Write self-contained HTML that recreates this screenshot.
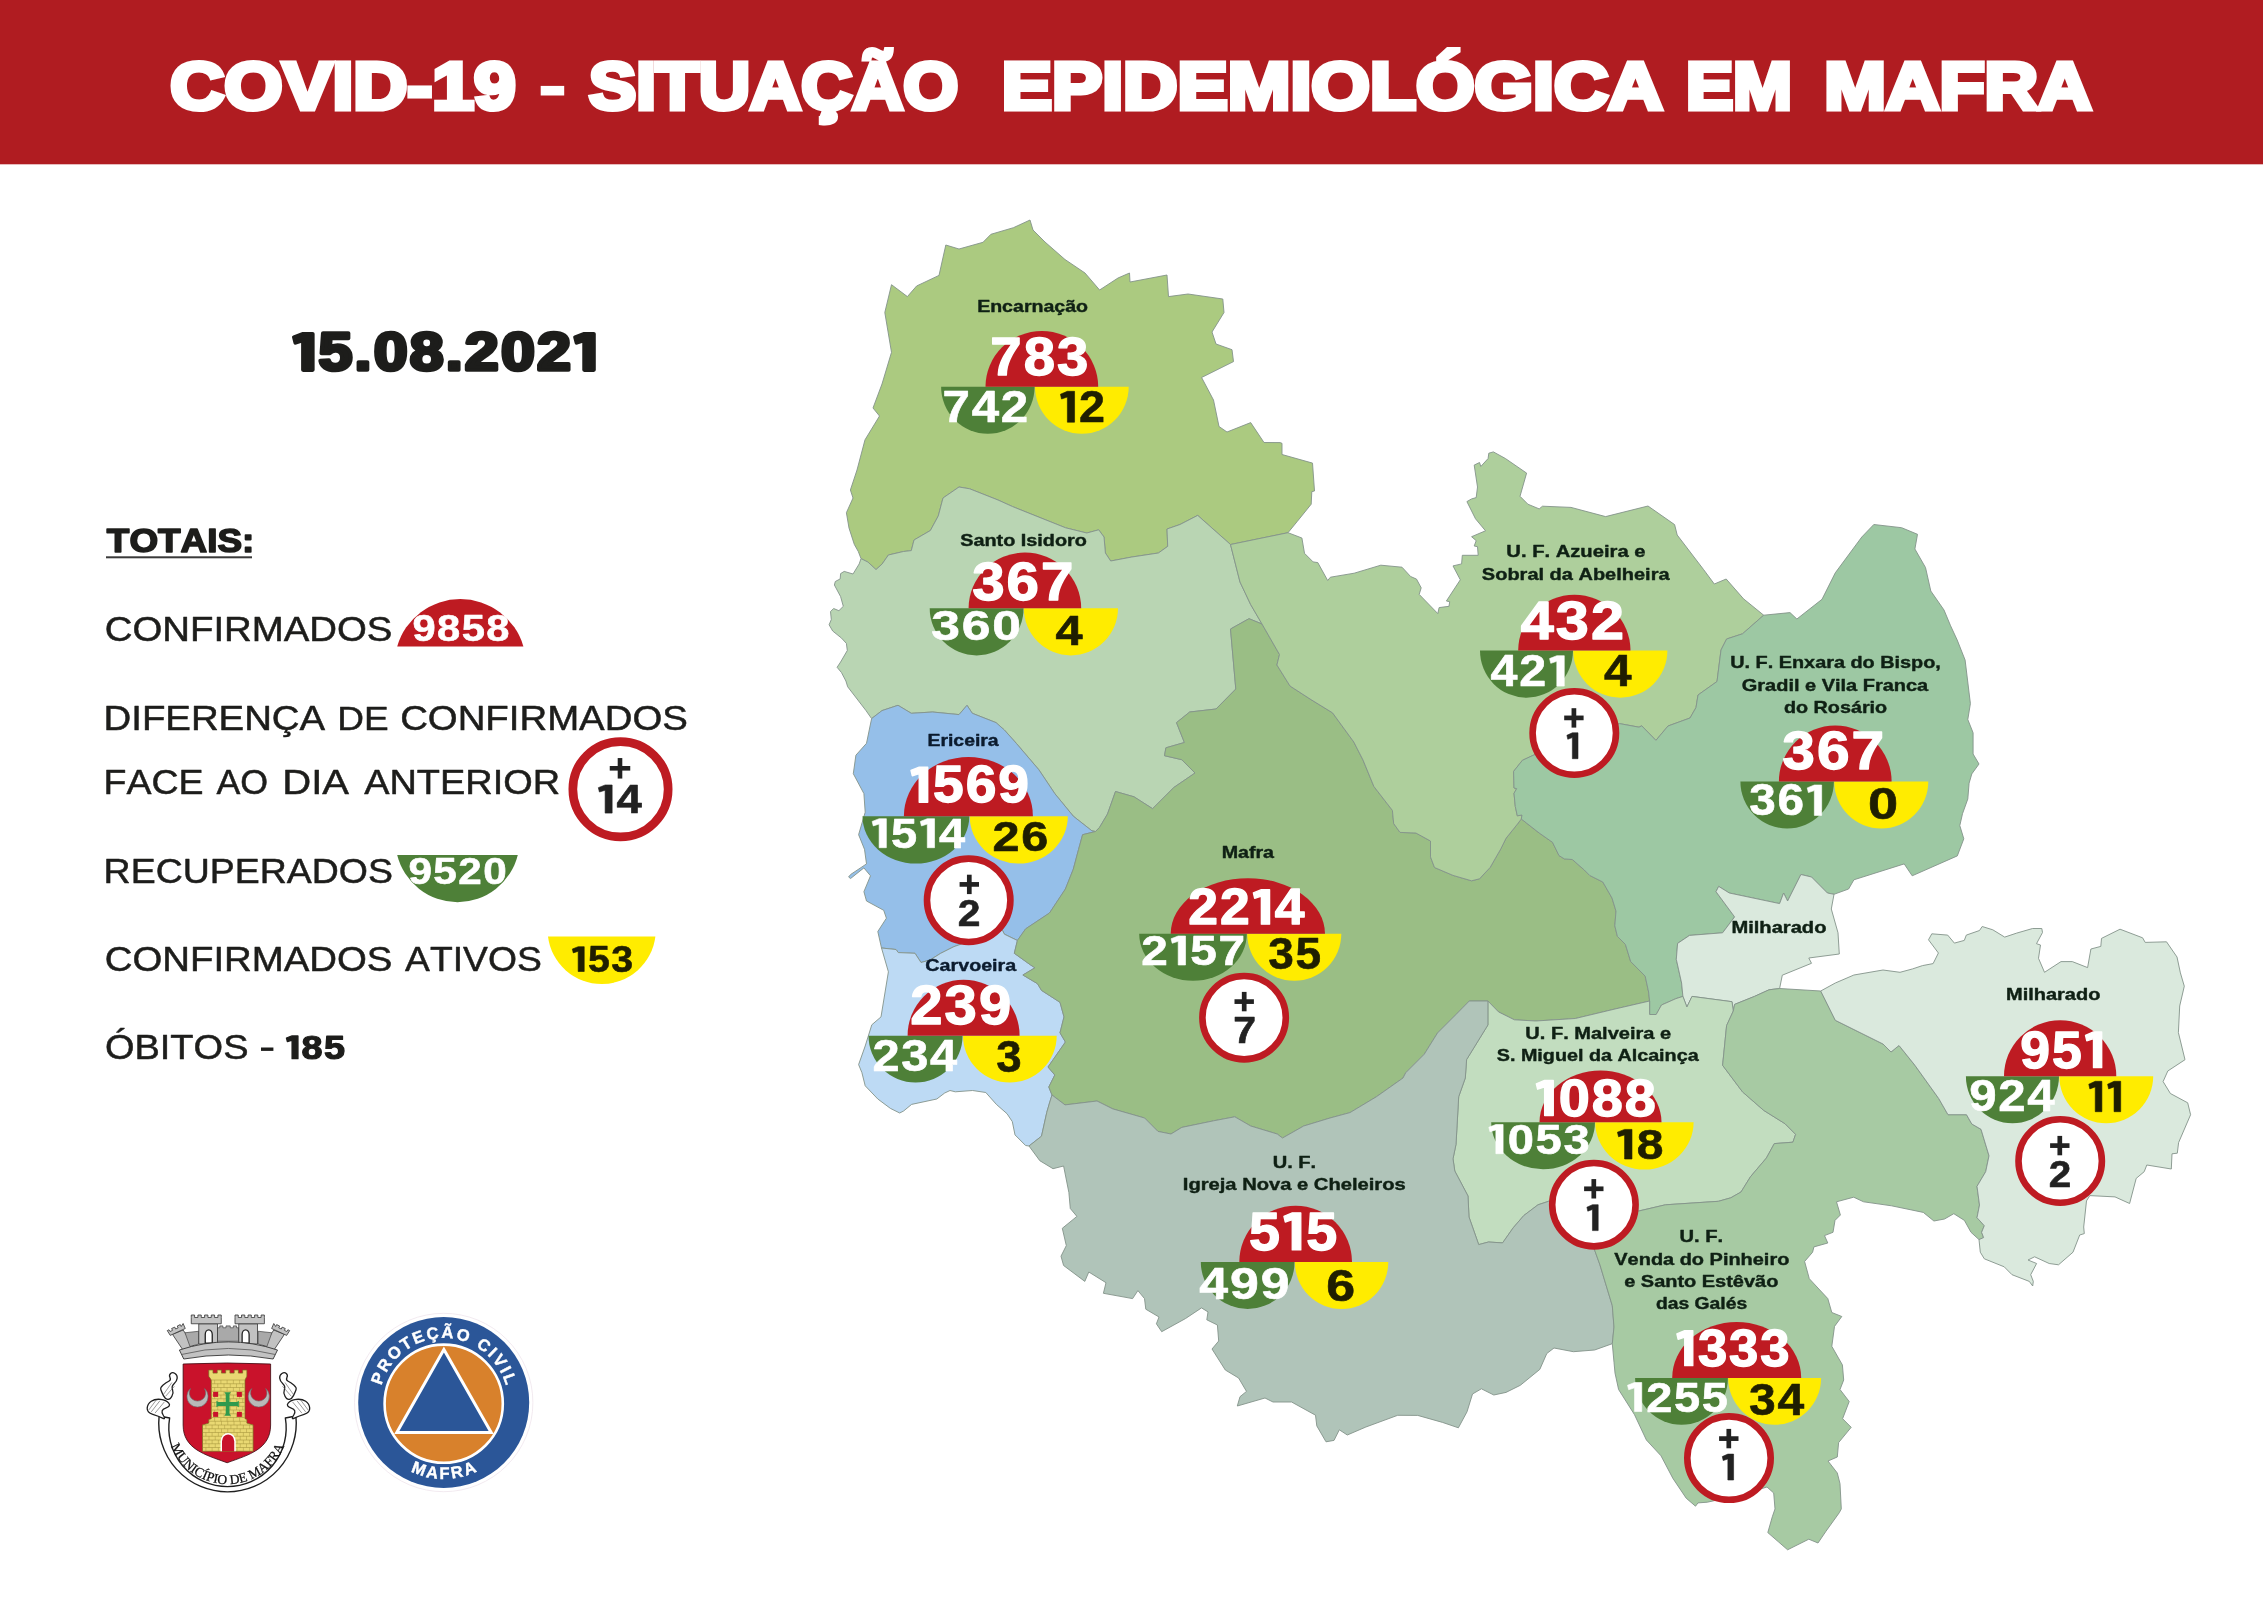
<!DOCTYPE html>
<html lang="pt"><head><meta charset="utf-8"><title>COVID-19 - Situação Epidemiológica em Mafra</title>
<style>
html,body{margin:0;padding:0;background:#fff;}
body{width:2263px;height:1600px;overflow:hidden;font-family:"Liberation Sans",sans-serif;}
svg{display:block;will-change:transform;}
svg text{font-kerning:none;white-space:pre;}
</style></head><body>
<svg width="2263" height="1600" viewBox="0 0 2263 1600">
<rect x="0" y="0" width="2263" height="164.3" fill="#B01C21"/>
<text transform="translate(170.20,108.80) scale(1.1104,1)" font-family="Liberation Sans, sans-serif" font-weight="bold" font-size="67.44" fill="#fff" stroke="#fff" stroke-width="5.00" stroke-linejoin="miter" stroke-miterlimit="2.5">COVID-19</text>
<text transform="translate(589.08,108.80) scale(1.0482,1)" font-family="Liberation Sans, sans-serif" font-weight="bold" font-size="67.44" fill="#fff" stroke="#fff" stroke-width="5.00" stroke-linejoin="miter" stroke-miterlimit="2.5">SITUAÇÃO</text>
<text transform="translate(1001.75,108.80) scale(1.1167,1)" font-family="Liberation Sans, sans-serif" font-weight="bold" font-size="67.44" fill="#fff" stroke="#fff" stroke-width="5.00" stroke-linejoin="miter" stroke-miterlimit="2.5">EPIDEMIOLÓGICA</text>
<text transform="translate(1685.89,108.80) scale(1.0500,1)" font-family="Liberation Sans, sans-serif" font-weight="bold" font-size="67.44" fill="#fff" stroke="#fff" stroke-width="5.00" stroke-linejoin="miter" stroke-miterlimit="2.5">EM</text>
<text transform="translate(1824.29,108.80) scale(1.0979,1)" font-family="Liberation Sans, sans-serif" font-weight="bold" font-size="67.44" fill="#fff" stroke="#fff" stroke-width="5.00" stroke-linejoin="miter" stroke-miterlimit="2.5">MAFRA</text>
<rect x="540.7" y="85.9" width="23.5" height="9.6" fill="#fff"/>
<g transform="translate(291.94,370.10) scale(1.1534,1)" fill="#1D1D1B" stroke="#1D1D1B" stroke-width="3.60" stroke-linejoin="round" font-family="Liberation Sans, sans-serif" font-weight="bold" font-size="52.91"><path d="M9.75,-36.40 L17.87,-36.40 L17.87,0.00 L9.75,0.00 L9.75,-29.67 L3.13,-27.30 L1.85,-32.94Z"/><text x="23.01" y="0">5</text><text x="54.29" y="0">.</text><text x="70.84" y="0">0</text><text x="102.12" y="0">8</text><text x="133.39" y="0">.</text><text x="149.94" y="0">2</text><text x="181.22" y="0">0</text><text x="212.50" y="0">2</text><path d="M253.52,-36.40 L261.64,-36.40 L261.64,0.00 L253.52,0.00 L253.52,-29.67 L246.90,-27.30 L245.62,-32.94Z"/></g>
<text transform="translate(106.86,551.90) scale(1.0992,1)" font-family="Liberation Sans, sans-serif" font-weight="bold" font-size="33.58" fill="#1D1D1B" stroke="#1D1D1B" stroke-width="1.60" stroke-linejoin="round" stroke-miterlimit="2.5">TOTAIS:</text>
<rect x="106" y="556.3" width="146" height="2" fill="#3a3a3a"/>
<text transform="translate(104.73,640.55) scale(1.1232,1)" font-family="Liberation Sans, sans-serif" font-weight="normal" font-size="34.16" fill="#1D1D1B" stroke="#1D1D1B" stroke-width="0.50" stroke-linejoin="round" stroke-miterlimit="2.5">CONFIRMADOS</text>
<text transform="translate(103.53,729.75) scale(1.1231,1)" font-family="Liberation Sans, sans-serif" font-weight="normal" font-size="34.16" fill="#1D1D1B" stroke="#1D1D1B" stroke-width="0.50" stroke-linejoin="round" stroke-miterlimit="2.5">DIFERENÇA</text>
<text transform="translate(337.24,729.75) scale(1.0829,1)" font-family="Liberation Sans, sans-serif" font-weight="normal" font-size="34.16" fill="#1D1D1B" stroke="#1D1D1B" stroke-width="0.50" stroke-linejoin="round" stroke-miterlimit="2.5">DE</text>
<text transform="translate(400.13,729.75) scale(1.1232,1)" font-family="Liberation Sans, sans-serif" font-weight="normal" font-size="34.16" fill="#1D1D1B" stroke="#1D1D1B" stroke-width="0.50" stroke-linejoin="round" stroke-miterlimit="2.5">CONFIRMADOS</text>
<text transform="translate(103.60,794.05) scale(1.0982,1)" font-family="Liberation Sans, sans-serif" font-weight="normal" font-size="34.16" fill="#1D1D1B" stroke="#1D1D1B" stroke-width="0.50" stroke-linejoin="round" stroke-miterlimit="2.5">FACE</text>
<text transform="translate(216.39,794.05) scale(1.0467,1)" font-family="Liberation Sans, sans-serif" font-weight="normal" font-size="34.16" fill="#1D1D1B" stroke="#1D1D1B" stroke-width="0.50" stroke-linejoin="round" stroke-miterlimit="2.5">AO</text>
<text transform="translate(282.21,794.05) scale(1.1728,1)" font-family="Liberation Sans, sans-serif" font-weight="normal" font-size="34.16" fill="#1D1D1B" stroke="#1D1D1B" stroke-width="0.50" stroke-linejoin="round" stroke-miterlimit="2.5">DIA</text>
<text transform="translate(364.20,794.05) scale(1.1099,1)" font-family="Liberation Sans, sans-serif" font-weight="normal" font-size="34.16" fill="#1D1D1B" stroke="#1D1D1B" stroke-width="0.50" stroke-linejoin="round" stroke-miterlimit="2.5">ANTERIOR</text>
<text transform="translate(103.60,882.75) scale(1.0971,1)" font-family="Liberation Sans, sans-serif" font-weight="normal" font-size="34.16" fill="#1D1D1B" stroke="#1D1D1B" stroke-width="0.50" stroke-linejoin="round" stroke-miterlimit="2.5">RECUPERADOS</text>
<text transform="translate(104.73,970.95) scale(1.1232,1)" font-family="Liberation Sans, sans-serif" font-weight="normal" font-size="34.16" fill="#1D1D1B" stroke="#1D1D1B" stroke-width="0.50" stroke-linejoin="round" stroke-miterlimit="2.5">CONFIRMADOS</text>
<text transform="translate(405.10,970.95) scale(1.0915,1)" font-family="Liberation Sans, sans-serif" font-weight="normal" font-size="34.16" fill="#1D1D1B" stroke="#1D1D1B" stroke-width="0.50" stroke-linejoin="round" stroke-miterlimit="2.5">ATIVOS</text>
<text transform="translate(104.88,1059.05) scale(1.1134,1)" font-family="Liberation Sans, sans-serif" font-weight="normal" font-size="34.16" fill="#1D1D1B" stroke="#1D1D1B" stroke-width="0.50" stroke-linejoin="round" stroke-miterlimit="2.5">ÓBITOS</text>
<rect x="261" y="1047.5" width="12.4" height="3.4" fill="#1D1D1B"/>
<g transform="translate(285.16,1058.70) scale(1.1405,1)" fill="#1D1D1B" stroke="#1D1D1B" stroke-width="1.20" stroke-linejoin="round" font-family="Liberation Sans, sans-serif" font-weight="bold" font-size="33.14"><path d="M6.11,-22.80 L11.19,-22.80 L11.19,0.00 L6.11,0.00 L6.11,-18.58 L1.96,-17.10 L1.16,-20.63Z"/><text x="14.42" y="0">8</text><text x="34.01" y="0">5</text></g>
<path d="M397.2,646.4 A65.70,65.70 0 0 1 523.4,646.4 Z" fill="#BE1B22"/>
<g transform="translate(412.40,641.20) scale(1.1509,1)" fill="#fff" stroke="#fff" stroke-width="0.60" stroke-linejoin="round" font-family="Liberation Sans, sans-serif" font-weight="bold" font-size="36.19"><text x="0.00" y="0">9</text><text x="21.39" y="0">8</text><text x="42.79" y="0">5</text><text x="64.18" y="0">8</text></g>
<path d="M397.2,855.0 A62.12,62.12 0 0 0 517.8,855.0 Z" fill="#4E8038"/>
<g transform="translate(408.38,884.30) scale(1.1578,1)" fill="#fff" stroke="#fff" stroke-width="0.60" stroke-linejoin="round" font-family="Liberation Sans, sans-serif" font-weight="bold" font-size="36.48"><text x="0.00" y="0">9</text><text x="21.57" y="0">5</text><text x="43.13" y="0">2</text><text x="64.70" y="0">0</text></g>
<path d="M548.0,936.5 A54.10,54.10 0 0 0 655.4,936.5 Z" fill="#FFEC00"/>
<g transform="translate(570.95,971.50) scale(1.0895,1)" fill="#1F1E00" stroke="#1F1E00" stroke-width="0.60" stroke-linejoin="round" font-family="Liberation Sans, sans-serif" font-weight="bold" font-size="36.05"><path d="M6.64,-24.80 L12.17,-24.80 L12.17,0.00 L6.64,0.00 L6.64,-20.21 L2.13,-18.60 L1.26,-22.44Z"/><text x="15.68" y="0">5</text><text x="36.99" y="0">3</text></g>
<circle cx="620.5" cy="789.3" r="47.65" fill="#fff" stroke="#BE1B22" stroke-width="8.70"/>
<rect x="609.75" y="766.00" width="20.50" height="4.60" fill="#222"/><rect x="617.70" y="758.05" width="4.60" height="20.50" fill="#222"/>
<g transform="translate(596.74,813.10) scale(1.1158,1)" fill="#222" stroke="#222" stroke-width="0.60" stroke-linejoin="round" font-family="Liberation Sans, sans-serif" font-weight="bold" font-size="40.84"><path d="M7.53,-28.10 L13.79,-28.10 L13.79,0.00 L7.53,0.00 L7.53,-22.90 L2.41,-21.07 L1.43,-25.43Z"/><text x="17.77" y="0">4</text></g>
<path d="M861.0,558.6 L858.3,551.5 L854.3,544.4 L849.0,528.0 L846.4,512.7 L853.0,498.0 L850.4,490.0 L857.0,470.0 L865.0,439.8 L879.5,416.0 L873.0,408.0 L882.0,384.0 L891.5,352.3 L884.8,312.5 L891.5,284.7 L907.4,296.6 L916.6,286.0 L939.0,275.4 L945.8,245.0 L959.0,249.0 L983.0,242.3 L990.9,234.3 L1013.4,227.7 L1030.0,220.0 L1033.0,230.0 L1045.0,242.0 L1065.0,259.5 L1085.0,273.0 L1099.6,290.0 L1118.0,278.0 L1129.5,273.0 L1130.0,282.0 L1167.0,275.0 L1168.5,296.6 L1188.0,294.0 L1222.8,299.0 L1224.0,312.5 L1212.0,332.0 L1216.0,344.0 L1232.0,349.7 L1233.5,361.6 L1201.6,377.5 L1213.5,400.0 L1219.0,426.5 L1227.0,432.0 L1250.7,422.6 L1264.0,442.5 L1280.0,442.6 L1282.0,443.3 L1282.0,454.5 L1312.5,463.1 L1314.5,491.0 L1311.8,491.6 L1311.2,504.2 L1297.2,521.5 L1288.0,532.7 L1230.5,544.5 L1197.7,515.4 L1180.0,524.5 L1167.0,529.0 L1167.7,546.4 L1158.4,553.0 L1131.9,557.0 L1110.7,561.0 L1105.4,553.0 L1104.0,537.0 L1098.7,529.8 L1086.8,533.0 L1065.6,527.8 L1039.0,517.2 L1012.6,506.6 L998.0,500.0 L969.7,488.8 L959.0,487.0 L943.0,498.0 L938.3,515.9 L930.4,530.5 L914.0,540.0 L911.3,550.6 L903.4,551.5 L888.4,555.0 L882.2,563.9 L876.0,569.6 L868.0,562.1Z" fill="#ABCA80" stroke="#83938A" stroke-width="0.9" stroke-linejoin="round"/>
<path d="M861.0,558.6 L859.2,563.9 L853.0,574.0 L844.2,571.4 L840.6,573.6 L840.2,578.9 L835.3,581.5 L834.4,585.0 L840.6,596.6 L843.3,606.3 L838.9,610.7 L833.6,608.5 L830.5,611.6 L831.3,619.5 L829.1,624.8 L832.7,631.0 L841.5,638.1 L846.4,643.4 L847.3,650.5 L840.6,662.0 L837.1,667.3 L841.5,672.6 L845.9,681.0 L847.7,686.8 L866.0,710.6 L871.6,718.6 L882.0,710.6 L898.0,705.3 L911.3,713.3 L932.6,712.0 L959.0,714.6 L967.0,705.3 L972.3,713.3 L996.0,722.6 L1004.4,730.0 L1016.3,743.3 L1038.9,769.8 L1054.8,793.6 L1073.3,816.2 L1091.9,830.8 L1095.5,831.5 L1099.6,827.3 L1107.5,814.0 L1115.5,791.5 L1134.0,796.8 L1152.6,808.7 L1173.8,787.5 L1195.0,773.0 L1181.8,759.7 L1164.5,755.7 L1165.9,747.8 L1184.4,742.5 L1176.5,722.6 L1189.7,712.0 L1216.0,709.0 L1235.8,689.0 L1230.5,629.0 L1249.0,618.7 L1262.0,624.0 L1250.7,604.6 L1240.0,582.0 L1230.5,544.5 L1197.7,515.4 L1180.0,524.5 L1167.0,529.0 L1167.7,546.4 L1158.4,553.0 L1131.9,557.0 L1110.7,561.0 L1105.4,553.0 L1104.0,537.0 L1098.7,529.8 L1086.8,533.0 L1065.6,527.8 L1039.0,517.2 L1012.6,506.6 L998.0,500.0 L969.7,488.8 L959.0,487.0 L943.0,498.0 L938.3,515.9 L930.4,530.5 L914.0,540.0 L911.3,550.6 L903.4,551.5 L888.4,555.0 L882.2,563.9 L876.0,569.6 L868.0,562.1Z" fill="#B9D5B3" stroke="#83938A" stroke-width="0.9" stroke-linejoin="round"/>
<path d="M871.6,718.6 L866.5,743.3 L855.9,755.2 L853.3,773.7 L863.9,793.6 L865.2,812.2 L858.6,834.7 L864.5,849.3 L866.5,863.9 L850.6,874.5 L848.6,877.0 L850.6,878.5 L863.9,867.9 L870.5,875.8 L863.9,891.7 L866.5,901.0 L883.7,910.3 L886.4,918.2 L877.8,931.5 L881.5,948.0 L896.0,949.5 L898.3,952.6 L915.0,953.3 L921.0,962.5 L930.0,960.0 L940.7,953.3 L954.0,946.6 L970.0,941.0 L985.0,936.0 L1002.4,930.2 L1004.4,934.2 L1017.4,940.5 L1025.6,928.9 L1049.5,913.0 L1065.4,889.0 L1073.3,869.2 L1078.6,849.3 L1082.6,834.7 L1095.5,831.5 L1091.9,830.8 L1073.3,816.2 L1054.8,793.6 L1038.9,769.8 L1016.3,743.3 L1004.4,730.0 L996.0,722.6 L972.3,713.3 L967.0,705.3 L959.0,714.6 L932.6,712.0 L911.3,713.3 L898.0,705.3 L882.0,710.6Z" fill="#95BFE9" stroke="#83938A" stroke-width="0.9" stroke-linejoin="round"/>
<path d="M881.5,948.0 L888.4,971.8 L881.0,1016.9 L871.8,1024.8 L865.2,1046.0 L858.6,1064.6 L861.9,1072.6 L865.2,1085.8 L877.8,1099.0 L890.4,1108.4 L899.7,1113.0 L903.6,1111.0 L911.6,1104.4 L936.8,1099.0 L944.7,1093.0 L950.0,1090.5 L955.3,1091.8 L972.6,1090.5 L985.8,1092.5 L996.4,1104.4 L1007.0,1113.7 L1012.3,1121.6 L1015.0,1134.9 L1025.6,1145.5 L1029.0,1146.0 L1041.5,1136.2 L1046.8,1112.3 L1049.5,1103.0 L1052.0,1095.0 L1048.8,1087.0 L1054.8,1075.0 L1048.0,1067.0 L1053.4,1059.3 L1065.4,1042.0 L1060.0,1032.8 L1064.0,1016.9 L1060.0,1002.3 L1041.5,990.4 L1037.5,983.7 L1022.9,975.0 L1034.9,967.8 L1030.9,965.2 L1014.3,953.3 L1017.4,940.5 L1004.4,934.2 L1002.4,930.2 L985.0,936.0 L970.0,941.0 L954.0,946.6 L940.7,953.3 L930.0,960.0 L921.0,962.5 L915.0,953.3 L898.3,952.6 L896.0,949.5Z" fill="#BDDAF4" stroke="#83938A" stroke-width="0.9" stroke-linejoin="round"/>
<path d="M1262.0,624.0 L1249.0,618.7 L1230.5,629.0 L1235.8,689.0 L1216.0,709.0 L1189.7,712.0 L1176.5,722.6 L1184.4,742.5 L1165.9,747.8 L1164.5,755.7 L1181.8,759.7 L1195.0,773.0 L1173.8,787.5 L1152.6,808.7 L1134.0,796.8 L1115.5,791.5 L1107.5,814.0 L1099.6,827.3 L1095.5,831.5 L1082.6,834.7 L1078.6,849.3 L1073.3,869.2 L1065.4,889.0 L1049.5,913.0 L1025.6,928.9 L1017.4,940.5 L1014.3,953.3 L1030.9,965.2 L1034.9,967.8 L1022.9,975.0 L1037.5,983.7 L1041.5,990.4 L1060.0,1002.3 L1064.0,1016.9 L1060.0,1032.8 L1065.4,1042.0 L1053.4,1059.3 L1048.0,1067.0 L1054.8,1075.0 L1048.8,1087.0 L1052.0,1095.0 L1065.0,1104.9 L1097.0,1101.0 L1112.8,1108.9 L1144.6,1118.0 L1157.9,1131.4 L1171.0,1134.0 L1181.8,1127.4 L1213.6,1120.8 L1234.8,1116.8 L1250.7,1126.0 L1277.2,1134.0 L1282.5,1138.0 L1303.7,1126.0 L1330.0,1118.0 L1350.0,1112.6 L1376.5,1096.7 L1403.0,1078.0 L1405.7,1072.8 L1424.2,1054.3 L1437.5,1033.0 L1456.0,1014.5 L1469.3,1001.0 L1487.9,1001.0 L1498.5,1011.9 L1514.4,1019.8 L1535.6,1021.0 L1575.3,1018.5 L1615.0,1009.0 L1649.6,1001.0 L1648.6,992.0 L1645.2,976.2 L1630.7,961.6 L1625.4,944.4 L1617.4,936.4 L1614.8,925.8 L1616.0,911.2 L1612.0,898.0 L1602.8,882.0 L1589.6,875.4 L1584.3,870.0 L1572.3,859.5 L1564.4,858.9 L1559.0,855.6 L1552.5,842.3 L1539.2,833.0 L1521.3,819.0 L1516.7,825.0 L1506.0,838.3 L1500.8,848.9 L1490.1,867.5 L1479.5,878.8 L1471.6,880.8 L1453.0,875.4 L1434.5,867.5 L1430.5,856.9 L1430.5,841.0 L1415.9,833.0 L1400.0,832.4 L1393.7,823.6 L1392.4,810.4 L1373.9,786.5 L1363.0,760.0 L1353.8,742.0 L1332.5,712.8 L1311.0,699.6 L1290.0,686.0 L1276.9,665.0 L1279.5,654.5Z" fill="#9ABE85" stroke="#83938A" stroke-width="0.9" stroke-linejoin="round"/>
<path d="M1288.0,532.7 L1301.9,538.0 L1304.5,553.3 L1313.1,561.9 L1317.8,562.6 L1327.7,580.5 L1330.4,577.2 L1354.2,573.2 L1380.8,565.2 L1402.0,567.2 L1410.6,576.5 L1416.5,579.1 L1421.2,587.8 L1419.2,594.4 L1437.8,613.6 L1439.1,607.6 L1449.0,606.3 L1449.7,601.7 L1446.4,601.0 L1460.3,579.8 L1453.0,565.9 L1461.6,563.9 L1462.3,555.3 L1478.2,555.3 L1477.5,546.7 L1474.2,546.0 L1476.2,540.7 L1471.6,536.7 L1485.5,530.8 L1475.5,518.8 L1466.9,501.6 L1471.6,498.9 L1476.2,497.6 L1477.5,487.0 L1474.2,465.1 L1479.5,462.5 L1480.8,466.5 L1488.1,458.5 L1488.8,453.2 L1493.4,451.9 L1505.4,458.5 L1526.6,473.1 L1520.0,496.3 L1527.9,504.2 L1539.2,508.9 L1542.5,506.2 L1571.0,507.4 L1605.6,516.6 L1648.0,506.0 L1674.6,524.6 L1677.2,535.0 L1703.7,569.7 L1714.3,584.0 L1726.2,579.0 L1743.5,598.8 L1763.7,615.2 L1742.5,633.8 L1726.6,639.0 L1721.0,650.0 L1717.0,681.5 L1698.0,695.0 L1696.0,707.5 L1690.0,718.0 L1668.0,726.0 L1655.9,740.4 L1641.7,725.8 L1639.0,727.2 L1619.5,723.6 L1575.0,738.0 L1533.0,755.4 L1522.4,760.3 L1513.6,771.4 L1514.0,788.0 L1516.7,788.6 L1514.0,793.3 L1515.3,806.5 L1517.3,815.8 L1522.0,815.0 L1521.3,819.0 L1516.7,825.0 L1506.0,838.3 L1500.8,848.9 L1490.1,867.5 L1479.5,878.8 L1471.6,880.8 L1453.0,875.4 L1434.5,867.5 L1430.5,856.9 L1430.5,841.0 L1415.9,833.0 L1400.0,832.4 L1393.7,823.6 L1392.4,810.4 L1373.9,786.5 L1363.0,760.0 L1353.8,742.0 L1332.5,712.8 L1311.0,699.6 L1290.0,686.0 L1276.9,665.0 L1279.5,654.5 L1262.0,624.0 L1250.7,604.6 L1240.0,582.0 L1230.5,544.5Z" fill="#AECF9C" stroke="#83938A" stroke-width="0.9" stroke-linejoin="round"/>
<path d="M1763.7,615.2 L1790.0,612.6 L1796.9,619.0 L1822.0,599.3 L1835.3,572.8 L1861.8,537.0 L1873.8,524.5 L1901.6,527.7 L1917.5,534.3 L1914.9,549.0 L1925.5,567.5 L1930.8,591.0 L1944.0,610.0 L1950.6,625.8 L1957.2,640.0 L1965.1,660.0 L1970.4,703.6 L1967.8,719.5 L1973.1,732.8 L1973.1,754.0 L1979.0,764.0 L1971.8,773.9 L1969.1,783.2 L1967.8,799.0 L1962.5,813.7 L1959.8,825.6 L1963.8,838.8 L1957.3,855.9 L1912.2,875.8 L1904.2,863.9 L1853.9,879.8 L1848.6,889.0 L1834.0,894.3 L1827.4,893.0 L1811.5,877.0 L1800.9,874.5 L1787.6,901.0 L1783.6,893.0 L1779.6,903.6 L1729.3,893.0 L1718.7,886.4 L1716.0,891.7 L1734.6,916.9 L1722.6,932.8 L1689.5,935.4 L1677.6,943.4 L1676.3,959.3 L1681.6,983.0 L1682.9,996.4 L1676.0,998.6 L1661.5,1005.0 L1656.2,1014.5 L1649.6,1014.5 L1649.6,1001.0 L1648.6,992.0 L1645.2,976.2 L1630.7,961.6 L1625.4,944.4 L1617.4,936.4 L1614.8,925.8 L1616.0,911.2 L1612.0,898.0 L1602.8,882.0 L1589.6,875.4 L1584.3,870.0 L1572.3,859.5 L1564.4,858.9 L1559.0,855.6 L1552.5,842.3 L1539.2,833.0 L1521.3,819.0 L1522.0,815.0 L1517.3,815.8 L1515.3,806.5 L1514.0,793.3 L1516.7,788.6 L1514.0,788.0 L1513.6,771.4 L1522.4,760.3 L1533.0,755.4 L1575.0,738.0 L1619.5,723.6 L1639.0,727.2 L1641.7,725.8 L1655.9,740.4 L1668.0,726.0 L1690.0,718.0 L1696.0,707.5 L1698.0,695.0 L1717.0,681.5 L1721.0,650.0 L1726.6,639.0 L1742.5,633.8Z" fill="#9DC8A3" stroke="#83938A" stroke-width="0.9" stroke-linejoin="round"/>
<path d="M1834.0,894.3 L1831.3,909.0 L1838.0,932.8 L1839.3,954.0 L1808.8,958.0 L1811.5,963.3 L1782.3,975.2 L1779.6,988.5 L1769.0,989.8 L1754.5,996.4 L1734.6,1004.4 L1733.3,1011.0 L1732.0,1001.7 L1692.0,996.4 L1686.9,1007.0 L1682.9,996.4 L1681.6,983.0 L1676.3,959.3 L1677.6,943.4 L1689.5,935.4 L1722.6,932.8 L1734.6,916.9 L1716.0,891.7 L1718.7,886.4 L1729.3,893.0 L1779.6,903.6 L1783.6,893.0 L1787.6,901.0 L1800.9,874.5 L1811.5,877.0 L1827.4,893.0Z" fill="#DAE9DD" stroke="#83938A" stroke-width="0.9" stroke-linejoin="round"/>
<path d="M1487.9,1001.0 L1498.5,1011.9 L1514.4,1019.8 L1535.6,1021.0 L1575.3,1018.5 L1615.0,1009.0 L1649.6,1001.0 L1649.6,1014.5 L1656.2,1014.5 L1661.5,1005.0 L1676.0,998.6 L1682.9,996.4 L1686.9,1007.0 L1692.0,996.4 L1732.0,1001.7 L1733.3,1011.0 L1726.6,1025.6 L1722.6,1065.3 L1742.5,1091.9 L1763.7,1110.4 L1785.0,1123.7 L1795.6,1134.3 L1792.9,1142.2 L1774.3,1143.6 L1766.4,1158.0 L1750.5,1176.7 L1741.0,1192.0 L1730.8,1197.8 L1718.4,1201.3 L1665.4,1204.8 L1638.8,1211.0 L1590.0,1216.0 L1548.6,1201.3 L1538.0,1204.8 L1523.8,1215.5 L1513.2,1227.8 L1502.6,1242.9 L1488.5,1242.0 L1478.7,1244.6 L1469.0,1217.0 L1468.0,1196.0 L1454.8,1171.0 L1453.0,1158.8 L1456.0,1144.4 L1458.7,1096.7 L1465.3,1078.0 L1466.6,1059.6 L1487.9,1025.0Z" fill="#C2DDBF" stroke="#83938A" stroke-width="0.9" stroke-linejoin="round"/>
<path d="M1029.0,1146.0 L1039.8,1160.7 L1053.0,1168.7 L1063.6,1166.0 L1068.9,1192.6 L1070.3,1208.5 L1076.9,1216.4 L1062.3,1228.3 L1066.3,1245.6 L1061.0,1256.2 L1063.6,1265.5 L1084.8,1281.4 L1088.8,1272.0 L1106.0,1282.7 L1103.4,1293.3 L1132.6,1298.6 L1137.9,1290.6 L1144.5,1298.6 L1145.8,1309.2 L1159.0,1317.0 L1156.4,1323.8 L1161.7,1331.7 L1185.6,1318.5 L1201.5,1307.9 L1208.0,1311.9 L1206.8,1319.8 L1217.4,1325.0 L1218.7,1341.0 L1212.0,1349.0 L1225.3,1370.0 L1238.6,1378.0 L1246.5,1391.4 L1240.0,1396.7 L1237.3,1406.0 L1265.0,1398.0 L1273.0,1402.0 L1291.6,1402.0 L1315.5,1415.2 L1316.8,1425.9 L1326.0,1441.8 L1334.0,1440.4 L1339.3,1429.8 L1347.3,1435.0 L1365.9,1427.0 L1397.7,1415.3 L1417.7,1415.4 L1442.5,1422.4 L1458.4,1427.8 L1467.0,1411.8 L1472.5,1394.0 L1481.4,1388.8 L1493.8,1395.0 L1506.0,1392.4 L1520.3,1385.3 L1539.8,1369.4 L1546.8,1353.5 L1554.0,1348.0 L1573.4,1351.7 L1594.6,1350.0 L1612.3,1343.7 L1614.0,1327.0 L1612.3,1305.7 L1600.0,1265.0 L1594.6,1250.0 L1590.0,1216.0 L1548.6,1201.3 L1538.0,1204.8 L1523.8,1215.5 L1513.2,1227.8 L1502.6,1242.9 L1488.5,1242.0 L1478.7,1244.6 L1469.0,1217.0 L1468.0,1196.0 L1454.8,1171.0 L1453.0,1158.8 L1456.0,1144.4 L1458.7,1096.7 L1465.3,1078.0 L1466.6,1059.6 L1487.9,1025.0 L1487.9,1001.0 L1469.3,1001.0 L1456.0,1014.5 L1437.5,1033.0 L1424.2,1054.3 L1405.7,1072.8 L1403.0,1078.0 L1376.5,1096.7 L1350.0,1112.6 L1330.0,1118.0 L1303.7,1126.0 L1282.5,1138.0 L1277.2,1134.0 L1250.7,1126.0 L1234.8,1116.8 L1213.6,1120.8 L1181.8,1127.4 L1171.0,1134.0 L1157.9,1131.4 L1144.6,1118.0 L1112.8,1108.9 L1097.0,1101.0 L1065.0,1104.9 L1052.0,1095.0 L1049.5,1103.0 L1046.8,1112.3 L1041.5,1136.2Z" fill="#B0C4B9" stroke="#83938A" stroke-width="0.9" stroke-linejoin="round"/>
<path d="M1733.3,1011.0 L1734.6,1004.4 L1754.5,996.4 L1769.0,989.8 L1779.6,988.5 L1820.7,991.0 L1835.3,1020.3 L1883.0,1044.0 L1891.0,1052.0 L1899.0,1045.5 L1914.9,1065.3 L1938.7,1098.5 L1948.0,1114.7 L1966.5,1114.7 L1971.8,1124.0 L1981.0,1129.3 L1989.0,1155.8 L1985.7,1171.7 L1977.0,1186.3 L1979.5,1205.0 L1977.0,1217.7 L1984.3,1225.7 L1981.6,1232.3 L1983.6,1237.6 L1979.0,1239.6 L1971.0,1232.3 L1964.4,1220.4 L1953.8,1213.7 L1944.5,1219.0 L1933.9,1221.0 L1923.3,1212.4 L1891.5,1205.8 L1863.6,1201.8 L1853.7,1197.2 L1836.5,1201.8 L1840.4,1215.0 L1835.0,1220.4 L1833.0,1232.3 L1824.5,1235.6 L1827.8,1243.0 L1813.9,1246.9 L1812.6,1252.2 L1804.6,1261.5 L1809.3,1278.7 L1827.8,1298.6 L1831.8,1312.5 L1841.8,1316.5 L1834.5,1326.4 L1831.8,1346.3 L1842.4,1364.9 L1843.7,1380.0 L1840.0,1389.5 L1849.2,1401.5 L1842.6,1418.7 L1851.2,1427.3 L1838.6,1442.6 L1837.3,1457.0 L1828.0,1461.0 L1837.3,1473.0 L1840.0,1483.7 L1841.3,1508.9 L1839.3,1512.7 L1826.0,1531.2 L1818.0,1543.0 L1808.8,1539.2 L1787.6,1549.8 L1778.4,1541.8 L1767.8,1532.6 L1772.3,1516.8 L1775.0,1508.9 L1773.7,1493.0 L1767.0,1487.0 L1740.0,1495.0 L1707.4,1502.2 L1698.0,1502.9 L1695.5,1506.2 L1686.2,1498.2 L1672.9,1478.4 L1661.0,1455.8 L1646.4,1440.0 L1634.5,1414.7 L1618.6,1389.5 L1615.0,1373.0 L1614.0,1362.3 L1612.3,1343.7 L1614.0,1327.0 L1612.3,1305.7 L1600.0,1265.0 L1594.6,1250.0 L1590.0,1216.0 L1638.8,1211.0 L1665.4,1204.8 L1718.4,1201.3 L1730.8,1197.8 L1741.0,1192.0 L1750.5,1176.7 L1766.4,1158.0 L1774.3,1143.6 L1792.9,1142.2 L1795.6,1134.3 L1785.0,1123.7 L1763.7,1110.4 L1742.5,1091.9 L1722.6,1065.3 L1726.6,1025.6Z" fill="#A7CAA3" stroke="#83938A" stroke-width="0.9" stroke-linejoin="round"/>
<path d="M1820.7,991.0 L1835.3,983.0 L1853.9,975.0 L1883.0,970.0 L1900.0,972.3 L1912.6,968.9 L1922.5,965.6 L1933.1,963.6 L1938.4,953.0 L1928.5,939.8 L1931.8,933.8 L1947.7,935.1 L1954.4,943.1 L1964.3,940.4 L1966.3,935.1 L1979.5,930.5 L1982.2,926.5 L1992.8,929.8 L2004.7,937.1 L2016.7,933.1 L2032.6,928.5 L2041.8,928.5 L2042.5,932.5 L2036.5,943.7 L2040.5,945.0 L2038.5,958.3 L2044.5,972.3 L2061.0,961.6 L2072.3,961.6 L2087.6,967.6 L2090.9,949.0 L2100.8,946.4 L2101.5,938.4 L2120.0,929.2 L2142.6,937.8 L2145.2,942.4 L2166.5,941.8 L2177.0,957.0 L2180.4,972.9 L2184.3,986.2 L2179.7,1006.0 L2178.4,1032.6 L2185.0,1059.7 L2167.8,1071.0 L2163.1,1081.6 L2170.4,1093.5 L2187.7,1102.8 L2190.6,1114.7 L2178.6,1142.6 L2177.3,1153.2 L2172.0,1153.8 L2171.3,1169.0 L2146.8,1165.0 L2144.2,1171.7 L2136.2,1178.4 L2129.6,1203.5 L2115.0,1196.9 L2089.8,1195.6 L2086.5,1200.9 L2083.7,1227.0 L2084.3,1233.6 L2079.7,1235.0 L2073.0,1252.2 L2058.5,1264.8 L2049.2,1263.5 L2034.6,1256.8 L2028.0,1260.0 L2036.6,1263.5 L2030.7,1274.7 L2033.3,1281.4 L2032.7,1286.0 L2029.3,1281.4 L2012.0,1274.7 L2004.2,1266.8 L1984.3,1258.8 L1980.3,1252.2 L1979.0,1239.6 L1983.6,1237.6 L1981.6,1232.3 L1984.3,1225.7 L1977.0,1217.7 L1979.5,1205.0 L1977.0,1186.3 L1985.7,1171.7 L1989.0,1155.8 L1981.0,1129.3 L1971.8,1124.0 L1966.5,1114.7 L1948.0,1114.7 L1938.7,1098.5 L1914.9,1065.3 L1899.0,1045.5 L1891.0,1052.0 L1883.0,1044.0 L1835.3,1020.3Z" fill="#DAE9DD" stroke="#83938A" stroke-width="0.9" stroke-linejoin="round"/>
<path d="M941.1,386.7 A46.75,47.10 0 0 0 1034.6,386.7 Z" fill="#4E8038"/>
<path d="M1035.0,386.7 A46.85,47.10 0 0 0 1128.7,386.7 Z" fill="#FFEC00"/>
<path d="M985.5,386.7 A56.35,55.70 0 0 1 1098.2,386.7 Z" fill="#BE1B22"/>
<g transform="translate(990.36,375.45) scale(1.0443,1)" fill="#fff" stroke="#fff" stroke-width="1.30" stroke-linejoin="round" font-family="Liberation Sans, sans-serif" font-weight="bold" font-size="53.92"><text x="0.00" y="0">7</text><text x="31.88" y="0">8</text><text x="63.76" y="0">3</text></g>
<g transform="translate(942.61,422.20) scale(1.0967,1)" fill="#fff" stroke="#fff" stroke-width="0.60" stroke-linejoin="round" font-family="Liberation Sans, sans-serif" font-weight="bold" font-size="44.91"><text x="0.00" y="0">7</text><text x="26.55" y="0">4</text><text x="53.10" y="0">2</text></g>
<g transform="translate(1058.78,422.20) scale(1.0396,1)" fill="#1F1E00" stroke="#1F1E00" stroke-width="0.60" stroke-linejoin="round" font-family="Liberation Sans, sans-serif" font-weight="bold" font-size="44.91"><path d="M8.28,-30.90 L15.17,-30.90 L15.17,0.00 L8.28,0.00 L8.28,-25.18 L2.65,-23.17 L1.57,-27.96Z"/><text x="19.54" y="0">2</text></g>
<path d="M929.7,608.3 A46.95,47.10 0 0 0 1023.6,608.3 Z" fill="#4E8038"/>
<path d="M1023.8,608.3 A47.10,47.10 0 0 0 1118.0,608.3 Z" fill="#FFEC00"/>
<path d="M968.6,608.3 A56.30,55.70 0 0 1 1081.2,608.3 Z" fill="#BE1B22"/>
<g transform="translate(972.17,600.15) scale(1.0805,1)" fill="#fff" stroke="#fff" stroke-width="1.30" stroke-linejoin="round" font-family="Liberation Sans, sans-serif" font-weight="bold" font-size="53.92"><text x="0.00" y="0">3</text><text x="31.88" y="0">6</text><text x="63.76" y="0">7</text></g>
<g transform="translate(931.28,640.20) scale(1.2071,1)" fill="#fff" stroke="#fff" stroke-width="0.60" stroke-linejoin="round" font-family="Liberation Sans, sans-serif" font-weight="bold" font-size="42.73"><text x="0.00" y="0">3</text><text x="25.26" y="0">6</text><text x="50.52" y="0">0</text></g>
<g transform="translate(1055.60,644.90) scale(1.1409,1)" fill="#1F1E00" stroke="#1F1E00" stroke-width="0.60" stroke-linejoin="round" font-family="Liberation Sans, sans-serif" font-weight="bold" font-size="42.73"><text x="0.00" y="0">4</text></g>
<path d="M862.5,816.2 A53.40,47.40 0 0 0 969.3,816.2 Z" fill="#4E8038"/>
<path d="M969.7,816.2 A49.05,47.40 0 0 0 1067.8,816.2 Z" fill="#FFEC00"/>
<path d="M903.9,816.2 A64.50,59.30 0 0 1 1032.9,816.2 Z" fill="#BE1B22"/>
<g transform="translate(909.07,802.25) scale(1.0780,1)" fill="#fff" stroke="#fff" stroke-width="1.30" stroke-linejoin="round" font-family="Liberation Sans, sans-serif" font-weight="bold" font-size="51.16"><path d="M9.43,-35.20 L17.28,-35.20 L17.28,0.00 L9.43,0.00 L9.43,-28.69 L3.02,-26.40 L1.79,-31.86Z"/><text x="22.26" y="0">5</text><text x="52.50" y="0">6</text><text x="82.75" y="0">9</text></g>
<g transform="translate(870.49,847.70) scale(1.1140,1)" fill="#fff" stroke="#fff" stroke-width="0.60" stroke-linejoin="round" font-family="Liberation Sans, sans-serif" font-weight="bold" font-size="42.15"><path d="M7.77,-29.00 L14.24,-29.00 L14.24,0.00 L7.77,0.00 L7.77,-23.63 L2.49,-21.75 L1.48,-26.25Z"/><text x="18.34" y="0">5</text><path d="M51.02,-29.00 L57.49,-29.00 L57.49,0.00 L51.02,0.00 L51.02,-23.63 L45.74,-21.75 L44.73,-26.25Z"/><text x="61.59" y="0">4</text></g>
<g transform="translate(992.45,851.40) scale(1.1297,1)" fill="#1F1E00" stroke="#1F1E00" stroke-width="0.60" stroke-linejoin="round" font-family="Liberation Sans, sans-serif" font-weight="bold" font-size="43.02"><text x="0.00" y="0">2</text><text x="25.43" y="0">6</text></g>
<path d="M868.5,1035.7 A47.05,46.80 0 0 0 962.6,1035.7 Z" fill="#4E8038"/>
<path d="M963.0,1035.7 A46.85,46.80 0 0 0 1056.7,1035.7 Z" fill="#FFEC00"/>
<path d="M907.6,1035.7 A56.00,55.90 0 0 1 1019.6,1035.7 Z" fill="#BE1B22"/>
<g transform="translate(910.28,1023.55) scale(1.0591,1)" fill="#fff" stroke="#fff" stroke-width="1.30" stroke-linejoin="round" font-family="Liberation Sans, sans-serif" font-weight="bold" font-size="54.80"><text x="0.00" y="0">2</text><text x="32.39" y="0">3</text><text x="64.79" y="0">9</text></g>
<g transform="translate(872.44,1070.90) scale(1.1038,1)" fill="#fff" stroke="#fff" stroke-width="0.60" stroke-linejoin="round" font-family="Liberation Sans, sans-serif" font-weight="bold" font-size="44.19"><text x="0.00" y="0">2</text><text x="26.12" y="0">3</text><text x="52.24" y="0">4</text></g>
<g transform="translate(996.26,1071.60) scale(1.0164,1)" fill="#1F1E00" stroke="#1F1E00" stroke-width="0.60" stroke-linejoin="round" font-family="Liberation Sans, sans-serif" font-weight="bold" font-size="44.91"><text x="0.00" y="0">3</text></g>
<path d="M1139.2,933.7 A53.80,47.10 0 0 0 1246.8,933.7 Z" fill="#4E8038"/>
<path d="M1247.2,933.7 A47.05,47.10 0 0 0 1341.3,933.7 Z" fill="#FFEC00"/>
<path d="M1170.7,933.7 A77.15,55.50 0 0 1 1325.0,933.7 Z" fill="#BE1B22"/>
<g transform="translate(1188.34,924.15) scale(1.0657,1)" fill="#fff" stroke="#fff" stroke-width="1.30" stroke-linejoin="round" font-family="Liberation Sans, sans-serif" font-weight="bold" font-size="50.15"><text x="0.00" y="0">2</text><text x="29.64" y="0">2</text><path d="M68.53,-34.50 L76.22,-34.50 L76.22,0.00 L68.53,0.00 L68.53,-28.12 L62.25,-25.88 L61.04,-31.22Z"/><text x="81.10" y="0">4</text></g>
<g transform="translate(1141.18,965.00) scale(1.1327,1)" fill="#fff" stroke="#fff" stroke-width="0.60" stroke-linejoin="round" font-family="Liberation Sans, sans-serif" font-weight="bold" font-size="42.15"><text x="0.00" y="0">2</text><path d="M32.69,-29.00 L39.15,-29.00 L39.15,0.00 L32.69,0.00 L32.69,-23.63 L27.41,-21.75 L26.39,-26.25Z"/><text x="43.25" y="0">5</text><text x="68.17" y="0">7</text></g>
<g transform="translate(1268.26,969.00) scale(1.0569,1)" fill="#1F1E00" stroke="#1F1E00" stroke-width="0.60" stroke-linejoin="round" font-family="Liberation Sans, sans-serif" font-weight="bold" font-size="43.46"><text x="0.00" y="0">3</text><text x="25.69" y="0">5</text></g>
<path d="M1480.0,650.6 A46.50,47.10 0 0 0 1573.0,650.6 Z" fill="#4E8038"/>
<path d="M1573.2,650.6 A47.10,47.10 0 0 0 1667.4,650.6 Z" fill="#FFEC00"/>
<path d="M1518.2,650.6 A56.15,55.90 0 0 1 1630.5,650.6 Z" fill="#BE1B22"/>
<g transform="translate(1520.71,638.75) scale(1.0984,1)" fill="#fff" stroke="#fff" stroke-width="1.30" stroke-linejoin="round" font-family="Liberation Sans, sans-serif" font-weight="bold" font-size="54.07"><text x="0.00" y="0">4</text><text x="31.96" y="0">3</text><text x="63.93" y="0">2</text></g>
<g transform="translate(1490.60,686.10) scale(1.0967,1)" fill="#fff" stroke="#fff" stroke-width="0.60" stroke-linejoin="round" font-family="Liberation Sans, sans-serif" font-weight="bold" font-size="44.19"><text x="0.00" y="0">4</text><text x="26.12" y="0">2</text><path d="M60.38,-30.40 L67.16,-30.40 L67.16,0.00 L60.38,0.00 L60.38,-24.78 L54.85,-22.80 L53.79,-27.51Z"/></g>
<g transform="translate(1603.99,686.10) scale(1.1208,1)" fill="#1F1E00" stroke="#1F1E00" stroke-width="0.60" stroke-linejoin="round" font-family="Liberation Sans, sans-serif" font-weight="bold" font-size="44.19"><text x="0.00" y="0">4</text></g>
<path d="M1740.4,781.6 A46.75,46.90 0 0 0 1833.9,781.6 Z" fill="#4E8038"/>
<path d="M1834.2,781.6 A47.05,46.90 0 0 0 1928.3,781.6 Z" fill="#FFEC00"/>
<path d="M1778.9,781.6 A56.35,56.10 0 0 1 1891.6,781.6 Z" fill="#BE1B22"/>
<g transform="translate(1782.26,769.25) scale(1.0871,1)" fill="#fff" stroke="#fff" stroke-width="1.30" stroke-linejoin="round" font-family="Liberation Sans, sans-serif" font-weight="bold" font-size="53.92"><text x="0.00" y="0">3</text><text x="31.88" y="0">6</text><text x="63.76" y="0">7</text></g>
<g transform="translate(1749.23,815.40) scale(1.0785,1)" fill="#fff" stroke="#fff" stroke-width="0.60" stroke-linejoin="round" font-family="Liberation Sans, sans-serif" font-weight="bold" font-size="44.19"><text x="0.00" y="0">3</text><text x="26.12" y="0">6</text><path d="M60.38,-30.40 L67.16,-30.40 L67.16,0.00 L60.38,0.00 L60.38,-24.78 L54.85,-22.80 L53.79,-27.51Z"/></g>
<g transform="translate(1867.93,818.70) scale(1.2260,1)" fill="#1F1E00" stroke="#1F1E00" stroke-width="0.60" stroke-linejoin="round" font-family="Liberation Sans, sans-serif" font-weight="bold" font-size="44.19"><text x="0.00" y="0">0</text></g>
<path d="M1491.2,1122.2 A51.90,47.10 0 0 0 1595.0,1122.2 Z" fill="#4E8038"/>
<path d="M1595.2,1122.2 A49.20,47.40 0 0 0 1693.6,1122.2 Z" fill="#FFEC00"/>
<path d="M1539.5,1122.2 A61.00,51.70 0 0 1 1661.5,1122.2 Z" fill="#BE1B22"/>
<g transform="translate(1534.36,1115.55) scale(1.0962,1)" fill="#fff" stroke="#fff" stroke-width="1.30" stroke-linejoin="round" font-family="Liberation Sans, sans-serif" font-weight="bold" font-size="51.02"><path d="M9.40,-35.10 L17.23,-35.10 L17.23,0.00 L9.40,0.00 L9.40,-28.61 L3.01,-26.33 L1.79,-31.77Z"/><text x="22.19" y="0">0</text><text x="52.35" y="0">8</text><text x="82.51" y="0">8</text></g>
<g transform="translate(1487.18,1153.70) scale(1.1110,1)" fill="#fff" stroke="#fff" stroke-width="0.60" stroke-linejoin="round" font-family="Liberation Sans, sans-serif" font-weight="bold" font-size="42.44"><path d="M7.82,-29.20 L14.33,-29.20 L14.33,0.00 L7.82,0.00 L7.82,-23.80 L2.51,-21.90 L1.49,-26.43Z"/><text x="18.46" y="0">0</text><text x="43.55" y="0">5</text><text x="68.64" y="0">3</text></g>
<g transform="translate(1615.75,1159.00) scale(1.1160,1)" fill="#1F1E00" stroke="#1F1E00" stroke-width="0.60" stroke-linejoin="round" font-family="Liberation Sans, sans-serif" font-weight="bold" font-size="43.02"><path d="M7.93,-29.60 L14.53,-29.60 L14.53,0.00 L7.93,0.00 L7.93,-24.12 L2.54,-22.20 L1.51,-26.79Z"/><text x="18.72" y="0">8</text></g>
<path d="M1965.9,1076.3 A46.55,47.00 0 0 0 2059.0,1076.3 Z" fill="#4E8038"/>
<path d="M2059.3,1076.3 A46.95,47.00 0 0 0 2153.2,1076.3 Z" fill="#FFEC00"/>
<path d="M2004.0,1076.3 A56.15,56.00 0 0 1 2116.3,1076.3 Z" fill="#BE1B22"/>
<g transform="translate(2020.31,1067.65) scale(1.0320,1)" fill="#fff" stroke="#fff" stroke-width="1.30" stroke-linejoin="round" font-family="Liberation Sans, sans-serif" font-weight="bold" font-size="51.89"><text x="0.00" y="0">9</text><text x="30.67" y="0">5</text><path d="M70.91,-35.70 L78.87,-35.70 L78.87,0.00 L70.91,0.00 L70.91,-29.10 L64.41,-26.78 L63.17,-32.31Z"/></g>
<g transform="translate(1969.13,1111.10) scale(1.1131,1)" fill="#fff" stroke="#fff" stroke-width="0.60" stroke-linejoin="round" font-family="Liberation Sans, sans-serif" font-weight="bold" font-size="44.19"><text x="0.00" y="0">9</text><text x="26.12" y="0">2</text><text x="52.24" y="0">4</text></g>
<g transform="translate(2087.28,1111.70) scale(0.9786,1)" fill="#1F1E00" stroke="#1F1E00" stroke-width="0.60" stroke-linejoin="round" font-family="Liberation Sans, sans-serif" font-weight="bold" font-size="44.19"><path d="M8.14,-30.40 L14.92,-30.40 L14.92,0.00 L8.14,0.00 L8.14,-24.78 L2.61,-22.80 L1.55,-27.51Z"/><path d="M27.36,-30.40 L34.14,-30.40 L34.14,0.00 L27.36,0.00 L27.36,-24.78 L21.83,-22.80 L20.77,-27.51Z"/></g>
<path d="M1200.8,1261.9 A46.90,47.10 0 0 0 1294.6,1261.9 Z" fill="#4E8038"/>
<path d="M1294.8,1261.9 A46.75,47.10 0 0 0 1388.3,1261.9 Z" fill="#FFEC00"/>
<path d="M1239.3,1261.9 A56.35,56.30 0 0 1 1352.0,1261.9 Z" fill="#BE1B22"/>
<g transform="translate(1249.06,1249.95) scale(1.0328,1)" fill="#fff" stroke="#fff" stroke-width="1.30" stroke-linejoin="round" font-family="Liberation Sans, sans-serif" font-weight="bold" font-size="53.92"><text x="0.00" y="0">5</text><path d="M41.82,-37.10 L50.09,-37.10 L50.09,0.00 L41.82,0.00 L41.82,-30.24 L35.06,-27.83 L33.76,-33.58Z"/><text x="55.33" y="0">5</text></g>
<g transform="translate(1199.37,1298.70) scale(1.1924,1)" fill="#fff" stroke="#fff" stroke-width="0.60" stroke-linejoin="round" font-family="Liberation Sans, sans-serif" font-weight="bold" font-size="43.46"><text x="0.00" y="0">4</text><text x="25.69" y="0">9</text><text x="51.38" y="0">9</text></g>
<g transform="translate(1326.14,1300.70) scale(1.1564,1)" fill="#1F1E00" stroke="#1F1E00" stroke-width="0.60" stroke-linejoin="round" font-family="Liberation Sans, sans-serif" font-weight="bold" font-size="44.91"><text x="0.00" y="0">6</text></g>
<path d="M1635.1,1377.9 A46.40,46.80 0 0 0 1727.9,1377.9 Z" fill="#4E8038"/>
<path d="M1728.2,1377.9 A46.45,46.80 0 0 0 1821.1,1377.9 Z" fill="#FFEC00"/>
<path d="M1672.2,1377.9 A64.50,56.00 0 0 1 1801.2,1377.9 Z" fill="#BE1B22"/>
<g transform="translate(1675.03,1365.65) scale(1.0317,1)" fill="#fff" stroke="#fff" stroke-width="1.30" stroke-linejoin="round" font-family="Liberation Sans, sans-serif" font-weight="bold" font-size="51.02"><path d="M9.40,-35.10 L17.23,-35.10 L17.23,0.00 L9.40,0.00 L9.40,-28.61 L3.01,-26.33 L1.79,-31.77Z"/><text x="22.19" y="0">3</text><text x="52.35" y="0">3</text><text x="82.51" y="0">3</text></g>
<g transform="translate(1625.89,1411.50) scale(1.1143,1)" fill="#fff" stroke="#fff" stroke-width="0.60" stroke-linejoin="round" font-family="Liberation Sans, sans-serif" font-weight="bold" font-size="42.15"><path d="M7.77,-29.00 L14.24,-29.00 L14.24,0.00 L7.77,0.00 L7.77,-23.63 L2.49,-21.75 L1.48,-26.25Z"/><text x="18.34" y="0">2</text><text x="43.25" y="0">5</text><text x="68.17" y="0">5</text></g>
<g transform="translate(1749.03,1415.10) scale(1.1050,1)" fill="#1F1E00" stroke="#1F1E00" stroke-width="0.60" stroke-linejoin="round" font-family="Liberation Sans, sans-serif" font-weight="bold" font-size="43.46"><text x="0.00" y="0">3</text><text x="25.69" y="0">4</text></g>
<circle cx="968.7" cy="900.3" r="41.70" fill="#fff" stroke="#BE1B22" stroke-width="6.60"/>
<rect x="959.60" y="882.05" width="19.40" height="4.70" fill="#222"/><rect x="966.95" y="874.70" width="4.70" height="19.40" fill="#222"/>
<g transform="translate(957.81,925.90) scale(1.0842,1)" fill="#222" stroke="#222" stroke-width="0.60" stroke-linejoin="round" font-family="Liberation Sans, sans-serif" font-weight="bold" font-size="37.65"><text x="0.00" y="0">2</text></g>
<circle cx="1244.1" cy="1017.7" r="41.70" fill="#fff" stroke="#BE1B22" stroke-width="6.60"/>
<rect x="1234.50" y="999.25" width="19.40" height="4.70" fill="#222"/><rect x="1241.85" y="991.90" width="4.70" height="19.40" fill="#222"/>
<g transform="translate(1233.17,1042.50) scale(1.1188,1)" fill="#222" stroke="#222" stroke-width="0.60" stroke-linejoin="round" font-family="Liberation Sans, sans-serif" font-weight="bold" font-size="36.63"><text x="0.00" y="0">7</text></g>
<circle cx="1574.3" cy="733.0" r="41.70" fill="#fff" stroke="#BE1B22" stroke-width="6.60"/>
<rect x="1564.20" y="715.55" width="19.40" height="4.70" fill="#222"/><rect x="1571.55" y="708.20" width="4.70" height="19.40" fill="#222"/>
<g transform="translate(1565.61,758.70) scale(0.9745,1)" fill="#222" stroke="#222" stroke-width="0.60" stroke-linejoin="round" font-family="Liberation Sans, sans-serif" font-weight="bold" font-size="37.65"><path d="M6.94,-25.90 L12.71,-25.90 L12.71,0.00 L6.94,0.00 L6.94,-21.11 L2.22,-19.42 L1.32,-23.44Z"/></g>
<circle cx="1593.9" cy="1204.7" r="41.70" fill="#fff" stroke="#BE1B22" stroke-width="6.60"/>
<rect x="1584.10" y="1186.45" width="19.40" height="4.70" fill="#222"/><rect x="1591.45" y="1179.10" width="4.70" height="19.40" fill="#222"/>
<g transform="translate(1585.59,1230.60) scale(0.9911,1)" fill="#222" stroke="#222" stroke-width="0.60" stroke-linejoin="round" font-family="Liberation Sans, sans-serif" font-weight="bold" font-size="37.65"><path d="M6.94,-25.90 L12.71,-25.90 L12.71,0.00 L6.94,0.00 L6.94,-21.11 L2.22,-19.42 L1.32,-23.44Z"/></g>
<circle cx="2060.2" cy="1161.0" r="41.70" fill="#fff" stroke="#BE1B22" stroke-width="6.60"/>
<rect x="2050.10" y="1143.25" width="19.40" height="4.70" fill="#222"/><rect x="2057.45" y="1135.90" width="4.70" height="19.40" fill="#222"/>
<g transform="translate(2048.72,1186.70) scale(1.0735,1)" fill="#222" stroke="#222" stroke-width="0.60" stroke-linejoin="round" font-family="Liberation Sans, sans-serif" font-weight="bold" font-size="37.65"><text x="0.00" y="0">2</text></g>
<circle cx="1729.0" cy="1458.1" r="41.70" fill="#fff" stroke="#BE1B22" stroke-width="6.60"/>
<rect x="1719.10" y="1436.25" width="19.40" height="4.70" fill="#222"/><rect x="1726.45" y="1428.90" width="4.70" height="19.40" fill="#222"/>
<g transform="translate(1720.99,1480.00) scale(0.9911,1)" fill="#222" stroke="#222" stroke-width="0.60" stroke-linejoin="round" font-family="Liberation Sans, sans-serif" font-weight="bold" font-size="37.65"><path d="M6.94,-25.90 L12.71,-25.90 L12.71,0.00 L6.94,0.00 L6.94,-21.11 L2.22,-19.42 L1.32,-23.44Z"/></g>
<text transform="translate(977.13,312.30) scale(1.2134,1)" font-family="Liberation Sans, sans-serif" font-weight="bold" font-size="16.13" fill="#0F2014" stroke="#0F2014" stroke-width="0.40" stroke-linejoin="round" stroke-miterlimit="2.5">Encarnação</text>
<text transform="translate(960.27,545.50) scale(1.2297,1)" font-family="Liberation Sans, sans-serif" font-weight="bold" font-size="16.13" fill="#0F2014" stroke="#0F2014" stroke-width="0.40" stroke-linejoin="round" stroke-miterlimit="2.5">Santo Isidoro</text>
<text transform="translate(927.54,746.00) scale(1.2009,1)" font-family="Liberation Sans, sans-serif" font-weight="bold" font-size="16.13" fill="#0B1B2E" stroke="#0B1B2E" stroke-width="0.40" stroke-linejoin="round" stroke-miterlimit="2.5">Ericeira</text>
<text transform="translate(925.34,970.60) scale(1.2211,1)" font-family="Liberation Sans, sans-serif" font-weight="bold" font-size="16.13" fill="#0B1B2E" stroke="#0B1B2E" stroke-width="0.40" stroke-linejoin="round" stroke-miterlimit="2.5">Carvoeira</text>
<text transform="translate(1221.63,857.70) scale(1.2176,1)" font-family="Liberation Sans, sans-serif" font-weight="bold" font-size="16.13" fill="#0F2014" stroke="#0F2014" stroke-width="0.40" stroke-linejoin="round" stroke-miterlimit="2.5">Mafra</text>
<text transform="translate(1506.34,557.40) scale(1.2531,1)" font-family="Liberation Sans, sans-serif" font-weight="bold" font-size="16.13" fill="#0F2014" stroke="#0F2014" stroke-width="0.40" stroke-linejoin="round" stroke-miterlimit="2.5">U. F. Azueira e</text>
<text transform="translate(1481.87,579.90) scale(1.2391,1)" font-family="Liberation Sans, sans-serif" font-weight="bold" font-size="16.13" fill="#0F2014" stroke="#0F2014" stroke-width="0.40" stroke-linejoin="round" stroke-miterlimit="2.5">Sobral da Abelheira</text>
<text transform="translate(1730.25,668.30) scale(1.2313,1)" font-family="Liberation Sans, sans-serif" font-weight="bold" font-size="16.13" fill="#0F2014" stroke="#0F2014" stroke-width="0.40" stroke-linejoin="round" stroke-miterlimit="2.5">U. F. Enxara do Bispo,</text>
<text transform="translate(1741.83,690.80) scale(1.2380,1)" font-family="Liberation Sans, sans-serif" font-weight="bold" font-size="16.13" fill="#0F2014" stroke="#0F2014" stroke-width="0.40" stroke-linejoin="round" stroke-miterlimit="2.5">Gradil e Vila Franca</text>
<text transform="translate(1784.03,713.40) scale(1.2247,1)" font-family="Liberation Sans, sans-serif" font-weight="bold" font-size="16.13" fill="#0F2014" stroke="#0F2014" stroke-width="0.40" stroke-linejoin="round" stroke-miterlimit="2.5">do Rosário</text>
<text transform="translate(1525.34,1038.70) scale(1.2420,1)" font-family="Liberation Sans, sans-serif" font-weight="bold" font-size="16.13" fill="#0F2014" stroke="#0F2014" stroke-width="0.40" stroke-linejoin="round" stroke-miterlimit="2.5">U. F. Malveira e</text>
<text transform="translate(1496.78,1061.20) scale(1.2254,1)" font-family="Liberation Sans, sans-serif" font-weight="bold" font-size="16.13" fill="#0F2014" stroke="#0F2014" stroke-width="0.40" stroke-linejoin="round" stroke-miterlimit="2.5">S. Miguel da Alcainça</text>
<text transform="translate(1731.40,933.10) scale(1.2486,1)" font-family="Liberation Sans, sans-serif" font-weight="bold" font-size="16.13" fill="#0F2014" stroke="#0F2014" stroke-width="0.40" stroke-linejoin="round" stroke-miterlimit="2.5">Milharado</text>
<text transform="translate(2006.01,1000.20) scale(1.2392,1)" font-family="Liberation Sans, sans-serif" font-weight="bold" font-size="16.13" fill="#0F2014" stroke="#0F2014" stroke-width="0.40" stroke-linejoin="round" stroke-miterlimit="2.5">Milharado</text>
<text transform="translate(1272.74,1167.60) scale(1.2442,1)" font-family="Liberation Sans, sans-serif" font-weight="bold" font-size="16.13" fill="#0F2014" stroke="#0F2014" stroke-width="0.40" stroke-linejoin="round" stroke-miterlimit="2.5">U. F.</text>
<text transform="translate(1182.80,1190.10) scale(1.2496,1)" font-family="Liberation Sans, sans-serif" font-weight="bold" font-size="16.13" fill="#0F2014" stroke="#0F2014" stroke-width="0.40" stroke-linejoin="round" stroke-miterlimit="2.5">Igreja Nova e Cheleiros</text>
<text transform="translate(1679.44,1241.80) scale(1.2502,1)" font-family="Liberation Sans, sans-serif" font-weight="bold" font-size="16.13" fill="#0F2014" stroke="#0F2014" stroke-width="0.40" stroke-linejoin="round" stroke-miterlimit="2.5">U. F.</text>
<text transform="translate(1614.31,1264.70) scale(1.2378,1)" font-family="Liberation Sans, sans-serif" font-weight="bold" font-size="16.13" fill="#0F2014" stroke="#0F2014" stroke-width="0.40" stroke-linejoin="round" stroke-miterlimit="2.5">Venda do Pinheiro</text>
<text transform="translate(1624.17,1287.00) scale(1.2385,1)" font-family="Liberation Sans, sans-serif" font-weight="bold" font-size="16.13" fill="#0F2014" stroke="#0F2014" stroke-width="0.40" stroke-linejoin="round" stroke-miterlimit="2.5">e Santo Estêvão</text>
<text transform="translate(1655.95,1309.30) scale(1.1977,1)" font-family="Liberation Sans, sans-serif" font-weight="bold" font-size="16.13" fill="#0F2014" stroke="#0F2014" stroke-width="0.40" stroke-linejoin="round" stroke-miterlimit="2.5">das Galés</text>
<circle cx="443.7" cy="1402.5" r="89.2" fill="#fff" stroke="#F1E8EE" stroke-width="0.9"/>
<circle cx="443.7" cy="1402.5" r="85.5" fill="#2B5698"/>
<circle cx="443.7" cy="1403.7" r="59.1" fill="#D8812C" stroke="#fff" stroke-width="2.6"/>
<path d="M443.9,1349.6 L491.2,1432.4 L396.8,1432.4 Z" fill="#2B5698" stroke="#fff" stroke-width="3" stroke-linejoin="miter"/>
<path id="pcTop" d="M381.58,1385.51 A64.4,64.4 0 0 1 505.82,1385.51" fill="none"/>
<text font-family="Liberation Sans, sans-serif" font-weight="bold" font-size="16.6" fill="#fff" stroke="#fff" stroke-width="0.4"><textPath href="#pcTop" textLength="167.9" lengthAdjust="spacing">PROTEÇÃO CIVIL</textPath></text>
<path id="pcBot" d="M410.57,1471.34 A76.4,76.4 0 0 0 476.83,1471.34" fill="none"/>
<text font-family="Liberation Sans, sans-serif" font-weight="bold" font-size="16.6" fill="#fff" stroke="#fff" stroke-width="0.4"><textPath href="#pcBot" textLength="68.5" lengthAdjust="spacing">MAFRA</textPath></text>
<path d="M159.12,1416.00 A68.75,68.75 0 1 0 295.88,1416.00 L285.36,1418.00 A58.7,58.7 0 1 1 169.64,1418.00 Z" fill="#fff" stroke="#1f1f1f" stroke-width="1.4" stroke-linejoin="round"/>
<path d="M160.94,1390.00 Q160.00,1387.50 163.12,1385.00 Q166.25,1382.50 168.75,1381.25 Q171.25,1380.00 170.00,1377.50 Q168.75,1375.00 170.62,1373.44 Q172.50,1371.88 175.00,1373.44 Q177.50,1375.00 177.19,1378.12 Q176.88,1381.25 174.06,1383.75 Q171.25,1386.25 172.50,1389.38 Q173.75,1392.50 171.88,1396.25 Q170.00,1400.00 167.50,1399.38 Q165.00,1398.75 163.44,1395.62 Q161.88,1392.50 160.94,1390.00Z" fill="#fff" stroke="#1f1f1f" stroke-width="1.3" stroke-linejoin="round"/>
<path d="M152.81,1414.38 Q146.88,1412.50 147.19,1408.12 Q147.50,1403.75 151.25,1401.25 Q155.00,1398.75 160.62,1399.38 Q166.25,1400.00 168.75,1403.12 Q171.25,1406.25 165.62,1408.12 Q160.00,1410.00 163.12,1415.00 Q166.25,1420.00 162.50,1418.12 Q158.75,1416.25 152.81,1414.38Z" fill="#fff" stroke="#1f1f1f" stroke-width="1.3" stroke-linejoin="round"/>
<path d="M148.75,1410.00 L156.25,1400.00" stroke="#555" stroke-width="0.6" fill="none"/>
<path d="M151.25,1411.88 L160.00,1400.62" stroke="#555" stroke-width="0.6" fill="none"/>
<path d="M155.00,1413.12 L164.38,1401.88" stroke="#555" stroke-width="0.6" fill="none"/>
<path d="M163.12,1395.00 L171.88,1382.50" stroke="#555" stroke-width="0.6" fill="none"/>
<path d="M165.62,1396.25 L174.38,1386.25" stroke="#555" stroke-width="0.6" fill="none"/>
<path d="M295.96,1390.00 Q296.90,1387.50 293.77,1385.00 Q290.65,1382.50 288.15,1381.25 Q285.65,1380.00 286.90,1377.50 Q288.15,1375.00 286.27,1373.44 Q284.40,1371.88 281.90,1373.44 Q279.40,1375.00 279.71,1378.12 Q280.02,1381.25 282.84,1383.75 Q285.65,1386.25 284.40,1389.38 Q283.15,1392.50 285.02,1396.25 Q286.90,1400.00 289.40,1399.38 Q291.90,1398.75 293.46,1395.62 Q295.02,1392.50 295.96,1390.00Z" fill="#fff" stroke="#1f1f1f" stroke-width="1.3" stroke-linejoin="round"/>
<path d="M304.09,1414.38 Q310.02,1412.50 309.71,1408.12 Q309.40,1403.75 305.65,1401.25 Q301.90,1398.75 296.27,1399.38 Q290.65,1400.00 288.15,1403.12 Q285.65,1406.25 291.27,1408.12 Q296.90,1410.00 293.77,1415.00 Q290.65,1420.00 294.40,1418.12 Q298.15,1416.25 304.09,1414.38Z" fill="#fff" stroke="#1f1f1f" stroke-width="1.3" stroke-linejoin="round"/>
<path d="M308.15,1410.00 L300.65,1400.00" stroke="#555" stroke-width="0.6" fill="none"/>
<path d="M305.65,1411.88 L296.90,1400.62" stroke="#555" stroke-width="0.6" fill="none"/>
<path d="M301.90,1413.12 L292.52,1401.88" stroke="#555" stroke-width="0.6" fill="none"/>
<path d="M293.77,1395.00 L285.02,1382.50" stroke="#555" stroke-width="0.6" fill="none"/>
<path d="M291.27,1396.25 L282.52,1386.25" stroke="#555" stroke-width="0.6" fill="none"/>
<path id="mmArc" d="M170.94,1445.95 A61.0,61.0 0 0 0 284.06,1445.95" fill="none"/>
<text font-family="Liberation Serif, serif" font-size="13.4" fill="#111" stroke="#111" stroke-width="0.25"><textPath href="#mmArc" textLength="144.8" lengthAdjust="spacingAndGlyphs">MUNICÍPIO DE MAFRA</textPath></text>
<path d="M172.50,1334.38 L183.12,1330.00 L194.38,1346.88 L185.00,1353.12Z" fill="#C2C2C2" stroke="#333" stroke-width="0.8" stroke-linejoin="round"/>
<path d="M167.25,1330.62 L169.00,1329.75 L170.00,1331.50 L172.50,1330.38 L171.62,1328.50 L174.75,1327.12 L175.62,1329.00 L178.12,1327.88 L177.25,1326.00 L180.25,1324.62 L181.25,1326.50 L183.12,1323.50 L185.25,1328.50 L170.25,1335.38Z" fill="#C2C2C2" stroke="#333" stroke-width="0.8" stroke-linejoin="round"/>
<path d="M185.00,1332.75 L198.75,1331.25 L198.75,1344.00 L190.00,1346.50Z" fill="#A9A9A9" stroke="#444" stroke-width="0.7" stroke-linejoin="round"/>
<path d="M284.40,1334.38 L273.77,1330.00 L262.52,1346.88 L271.90,1353.12Z" fill="#C2C2C2" stroke="#333" stroke-width="0.8" stroke-linejoin="round"/>
<path d="M289.65,1330.62 L287.90,1329.75 L286.90,1331.50 L284.40,1330.38 L285.27,1328.50 L282.15,1327.12 L281.27,1329.00 L278.77,1327.88 L279.65,1326.00 L276.65,1324.62 L275.65,1326.50 L273.77,1323.50 L271.65,1328.50 L286.65,1335.38Z" fill="#C2C2C2" stroke="#333" stroke-width="0.8" stroke-linejoin="round"/>
<path d="M271.90,1332.75 L258.15,1331.25 L258.15,1344.00 L266.90,1346.50Z" fill="#A9A9A9" stroke="#444" stroke-width="0.7" stroke-linejoin="round"/>
<path d="M217.50,1341.25 L217.50,1327.75 L219.75,1327.75 L219.75,1325.88 L222.88,1325.88 L222.88,1327.75 L226.00,1327.75 L226.00,1325.88 L230.25,1325.88 L230.25,1327.75 L233.38,1327.75 L233.38,1325.88 L236.50,1325.88 L236.50,1327.75 L238.75,1327.75 L238.75,1341.25Z" fill="#A9A9A9" stroke="#444" stroke-width="0.7" stroke-linejoin="round"/>
<path d="M198.75,1323.75 L217.50,1323.75 L217.50,1344.00 L198.75,1344.00Z" fill="#C2C2C2" stroke="#333" stroke-width="0.8" stroke-linejoin="round"/>
<path d="M191.25,1323.75 L191.25,1317.50 L191.25,1315.00 L194.58,1315.00 L194.58,1317.50 L197.92,1317.50 L197.92,1315.00 L201.25,1315.00 L201.25,1317.50 L204.58,1317.50 L204.58,1315.00 L207.92,1315.00 L207.92,1317.50 L211.25,1317.50 L211.25,1315.00 L214.58,1315.00 L214.58,1317.50 L217.92,1317.50 L217.92,1315.00 L221.25,1315.00 L221.25,1317.50 L221.25,1323.75Z" fill="#C2C2C2" stroke="#333" stroke-width="0.8" stroke-linejoin="round"/>
<path d="M205.25,1343.12 L205.25,1334.38 A3.50,4.55 0 0 1 212.25,1334.38 L212.25,1343.12 Z" fill="#fff" stroke="#222" stroke-width="1.3"/>
<path d="M238.75,1323.75 L257.50,1323.75 L257.50,1344.00 L238.75,1344.00Z" fill="#C2C2C2" stroke="#333" stroke-width="0.8" stroke-linejoin="round"/>
<path d="M235.00,1323.75 L235.00,1317.50 L235.00,1315.00 L238.26,1315.00 L238.26,1317.50 L241.53,1317.50 L241.53,1315.00 L244.79,1315.00 L244.79,1317.50 L248.06,1317.50 L248.06,1315.00 L251.32,1315.00 L251.32,1317.50 L254.58,1317.50 L254.58,1315.00 L257.85,1315.00 L257.85,1317.50 L261.11,1317.50 L261.11,1315.00 L264.38,1315.00 L264.38,1317.50 L264.38,1323.75Z" fill="#C2C2C2" stroke="#333" stroke-width="0.8" stroke-linejoin="round"/>
<path d="M242.12,1343.12 L242.12,1334.38 A3.50,4.55 0 0 1 249.12,1334.38 L249.12,1343.12 Z" fill="#fff" stroke="#222" stroke-width="1.3"/>
<path d="M179.38,1350.00 Q228.38,1333.75 277.50,1350.00 L273.12,1359.00 Q228.38,1351.00 183.75,1359.00 Z" fill="#C2C2C2" stroke="#333" stroke-width="0.9" stroke-linejoin="round"/>
<path d="M181.50,1354.50 Q228.38,1342.38 275.25,1354.50" fill="none" stroke="#555" stroke-width="0.8"/>
<path d="M183.12,1364.00 Q226.88,1361.95 270.62,1364.00 L270.62,1425.00 C270.62,1449.00 249.12,1454.75 227.12,1462.75 C205.12,1454.75 183.12,1449.00 183.12,1425.00 Z" fill="#C9122B" stroke="#3a0a10" stroke-width="0.8"/>
<path d="M190.62,1388.43 A10.6,10.6 0 1 0 204.38,1388.43 A8.2,8.2 0 1 1 190.62,1388.43 Z" fill="#B9B9B9" stroke="#666" stroke-width="0.6"/>
<path d="M251.87,1388.43 A10.6,10.6 0 1 0 265.63,1388.43 A8.2,8.2 0 1 1 251.87,1388.43 Z" fill="#B9B9B9" stroke="#666" stroke-width="0.6"/>
<path d="M208.75,1376.25 L208.75,1370.00 L208.75,1370.00 L212.99,1370.00 L212.99,1373.12 L217.22,1373.12 L217.22,1370.00 L221.46,1370.00 L221.46,1373.12 L225.69,1373.12 L225.69,1370.00 L229.93,1370.00 L229.93,1373.12 L234.17,1373.12 L234.17,1370.00 L238.40,1370.00 L238.40,1373.12 L242.64,1373.12 L242.64,1370.00 L246.88,1370.00 L246.88,1373.12 L246.88,1376.25 L245.00,1380.00 L245.00,1418.75 L246.88,1419.38 L246.88,1423.12 L253.12,1425.00 L253.12,1451.25 L202.50,1451.25 L202.50,1425.00 L208.75,1423.12 L208.75,1419.38 L211.25,1418.75 L211.25,1380.00Z" fill="#E9D872" stroke="#7a6a1e" stroke-width="0.7" stroke-linejoin="round"/>
<path d="M211.50,1380.00 L244.75,1380.00" stroke="#a3923a" stroke-width="0.55"/>
<path d="M211.50,1383.75 L244.75,1383.75" stroke="#a3923a" stroke-width="0.55"/>
<path d="M211.50,1387.50 L244.75,1387.50" stroke="#a3923a" stroke-width="0.55"/>
<path d="M211.50,1391.25 L244.75,1391.25" stroke="#a3923a" stroke-width="0.55"/>
<path d="M211.50,1395.00 L244.75,1395.00" stroke="#a3923a" stroke-width="0.55"/>
<path d="M211.50,1398.75 L244.75,1398.75" stroke="#a3923a" stroke-width="0.55"/>
<path d="M211.50,1402.50 L244.75,1402.50" stroke="#a3923a" stroke-width="0.55"/>
<path d="M211.50,1406.25 L244.75,1406.25" stroke="#a3923a" stroke-width="0.55"/>
<path d="M211.50,1410.00 L244.75,1410.00" stroke="#a3923a" stroke-width="0.55"/>
<path d="M211.50,1413.75 L244.75,1413.75" stroke="#a3923a" stroke-width="0.55"/>
<path d="M211.50,1417.50 L244.75,1417.50" stroke="#a3923a" stroke-width="0.55"/>
<path d="M209.00,1421.25 L246.62,1421.25" stroke="#a3923a" stroke-width="0.55"/>
<path d="M202.75,1425.00 L252.88,1425.00" stroke="#a3923a" stroke-width="0.55"/>
<path d="M202.75,1428.75 L252.88,1428.75" stroke="#a3923a" stroke-width="0.55"/>
<path d="M202.75,1432.50 L252.88,1432.50" stroke="#a3923a" stroke-width="0.55"/>
<path d="M202.75,1436.25 L252.88,1436.25" stroke="#a3923a" stroke-width="0.55"/>
<path d="M202.75,1440.00 L252.88,1440.00" stroke="#a3923a" stroke-width="0.55"/>
<path d="M202.75,1443.75 L252.88,1443.75" stroke="#a3923a" stroke-width="0.55"/>
<path d="M202.75,1447.50 L252.88,1447.50" stroke="#a3923a" stroke-width="0.55"/>
<path d="M214.62,1380.00 L214.62,1383.75" stroke="#a3923a" stroke-width="0.45"/>
<path d="M220.88,1380.00 L220.88,1383.75" stroke="#a3923a" stroke-width="0.45"/>
<path d="M227.12,1380.00 L227.12,1383.75" stroke="#a3923a" stroke-width="0.45"/>
<path d="M233.38,1380.00 L233.38,1383.75" stroke="#a3923a" stroke-width="0.45"/>
<path d="M239.62,1380.00 L239.62,1383.75" stroke="#a3923a" stroke-width="0.45"/>
<path d="M217.75,1383.75 L217.75,1387.50" stroke="#a3923a" stroke-width="0.45"/>
<path d="M224.00,1383.75 L224.00,1387.50" stroke="#a3923a" stroke-width="0.45"/>
<path d="M230.25,1383.75 L230.25,1387.50" stroke="#a3923a" stroke-width="0.45"/>
<path d="M236.50,1383.75 L236.50,1387.50" stroke="#a3923a" stroke-width="0.45"/>
<path d="M242.75,1383.75 L242.75,1387.50" stroke="#a3923a" stroke-width="0.45"/>
<path d="M214.62,1387.50 L214.62,1391.25" stroke="#a3923a" stroke-width="0.45"/>
<path d="M220.88,1387.50 L220.88,1391.25" stroke="#a3923a" stroke-width="0.45"/>
<path d="M227.12,1387.50 L227.12,1391.25" stroke="#a3923a" stroke-width="0.45"/>
<path d="M233.38,1387.50 L233.38,1391.25" stroke="#a3923a" stroke-width="0.45"/>
<path d="M239.62,1387.50 L239.62,1391.25" stroke="#a3923a" stroke-width="0.45"/>
<path d="M217.75,1391.25 L217.75,1395.00" stroke="#a3923a" stroke-width="0.45"/>
<path d="M224.00,1391.25 L224.00,1395.00" stroke="#a3923a" stroke-width="0.45"/>
<path d="M230.25,1391.25 L230.25,1395.00" stroke="#a3923a" stroke-width="0.45"/>
<path d="M236.50,1391.25 L236.50,1395.00" stroke="#a3923a" stroke-width="0.45"/>
<path d="M242.75,1391.25 L242.75,1395.00" stroke="#a3923a" stroke-width="0.45"/>
<path d="M214.62,1395.00 L214.62,1398.75" stroke="#a3923a" stroke-width="0.45"/>
<path d="M220.88,1395.00 L220.88,1398.75" stroke="#a3923a" stroke-width="0.45"/>
<path d="M227.12,1395.00 L227.12,1398.75" stroke="#a3923a" stroke-width="0.45"/>
<path d="M233.38,1395.00 L233.38,1398.75" stroke="#a3923a" stroke-width="0.45"/>
<path d="M239.62,1395.00 L239.62,1398.75" stroke="#a3923a" stroke-width="0.45"/>
<path d="M217.75,1398.75 L217.75,1402.50" stroke="#a3923a" stroke-width="0.45"/>
<path d="M224.00,1398.75 L224.00,1402.50" stroke="#a3923a" stroke-width="0.45"/>
<path d="M230.25,1398.75 L230.25,1402.50" stroke="#a3923a" stroke-width="0.45"/>
<path d="M236.50,1398.75 L236.50,1402.50" stroke="#a3923a" stroke-width="0.45"/>
<path d="M242.75,1398.75 L242.75,1402.50" stroke="#a3923a" stroke-width="0.45"/>
<path d="M214.62,1402.50 L214.62,1406.25" stroke="#a3923a" stroke-width="0.45"/>
<path d="M220.88,1402.50 L220.88,1406.25" stroke="#a3923a" stroke-width="0.45"/>
<path d="M227.12,1402.50 L227.12,1406.25" stroke="#a3923a" stroke-width="0.45"/>
<path d="M233.38,1402.50 L233.38,1406.25" stroke="#a3923a" stroke-width="0.45"/>
<path d="M239.62,1402.50 L239.62,1406.25" stroke="#a3923a" stroke-width="0.45"/>
<path d="M217.75,1406.25 L217.75,1410.00" stroke="#a3923a" stroke-width="0.45"/>
<path d="M224.00,1406.25 L224.00,1410.00" stroke="#a3923a" stroke-width="0.45"/>
<path d="M230.25,1406.25 L230.25,1410.00" stroke="#a3923a" stroke-width="0.45"/>
<path d="M236.50,1406.25 L236.50,1410.00" stroke="#a3923a" stroke-width="0.45"/>
<path d="M242.75,1406.25 L242.75,1410.00" stroke="#a3923a" stroke-width="0.45"/>
<path d="M214.62,1410.00 L214.62,1413.75" stroke="#a3923a" stroke-width="0.45"/>
<path d="M220.88,1410.00 L220.88,1413.75" stroke="#a3923a" stroke-width="0.45"/>
<path d="M227.12,1410.00 L227.12,1413.75" stroke="#a3923a" stroke-width="0.45"/>
<path d="M233.38,1410.00 L233.38,1413.75" stroke="#a3923a" stroke-width="0.45"/>
<path d="M239.62,1410.00 L239.62,1413.75" stroke="#a3923a" stroke-width="0.45"/>
<path d="M217.75,1413.75 L217.75,1417.50" stroke="#a3923a" stroke-width="0.45"/>
<path d="M224.00,1413.75 L224.00,1417.50" stroke="#a3923a" stroke-width="0.45"/>
<path d="M230.25,1413.75 L230.25,1417.50" stroke="#a3923a" stroke-width="0.45"/>
<path d="M236.50,1413.75 L236.50,1417.50" stroke="#a3923a" stroke-width="0.45"/>
<path d="M242.75,1413.75 L242.75,1417.50" stroke="#a3923a" stroke-width="0.45"/>
<path d="M214.62,1417.50 L214.62,1421.25" stroke="#a3923a" stroke-width="0.45"/>
<path d="M220.88,1417.50 L220.88,1421.25" stroke="#a3923a" stroke-width="0.45"/>
<path d="M227.12,1417.50 L227.12,1421.25" stroke="#a3923a" stroke-width="0.45"/>
<path d="M233.38,1417.50 L233.38,1421.25" stroke="#a3923a" stroke-width="0.45"/>
<path d="M239.62,1417.50 L239.62,1421.25" stroke="#a3923a" stroke-width="0.45"/>
<path d="M215.25,1421.25 L215.25,1425.00" stroke="#a3923a" stroke-width="0.45"/>
<path d="M221.50,1421.25 L221.50,1425.00" stroke="#a3923a" stroke-width="0.45"/>
<path d="M227.75,1421.25 L227.75,1425.00" stroke="#a3923a" stroke-width="0.45"/>
<path d="M234.00,1421.25 L234.00,1425.00" stroke="#a3923a" stroke-width="0.45"/>
<path d="M240.25,1421.25 L240.25,1425.00" stroke="#a3923a" stroke-width="0.45"/>
<path d="M205.88,1425.00 L205.88,1428.75" stroke="#a3923a" stroke-width="0.45"/>
<path d="M212.12,1425.00 L212.12,1428.75" stroke="#a3923a" stroke-width="0.45"/>
<path d="M218.38,1425.00 L218.38,1428.75" stroke="#a3923a" stroke-width="0.45"/>
<path d="M224.62,1425.00 L224.62,1428.75" stroke="#a3923a" stroke-width="0.45"/>
<path d="M230.88,1425.00 L230.88,1428.75" stroke="#a3923a" stroke-width="0.45"/>
<path d="M237.12,1425.00 L237.12,1428.75" stroke="#a3923a" stroke-width="0.45"/>
<path d="M243.38,1425.00 L243.38,1428.75" stroke="#a3923a" stroke-width="0.45"/>
<path d="M249.62,1425.00 L249.62,1428.75" stroke="#a3923a" stroke-width="0.45"/>
<path d="M209.00,1428.75 L209.00,1432.50" stroke="#a3923a" stroke-width="0.45"/>
<path d="M215.25,1428.75 L215.25,1432.50" stroke="#a3923a" stroke-width="0.45"/>
<path d="M221.50,1428.75 L221.50,1432.50" stroke="#a3923a" stroke-width="0.45"/>
<path d="M227.75,1428.75 L227.75,1432.50" stroke="#a3923a" stroke-width="0.45"/>
<path d="M234.00,1428.75 L234.00,1432.50" stroke="#a3923a" stroke-width="0.45"/>
<path d="M240.25,1428.75 L240.25,1432.50" stroke="#a3923a" stroke-width="0.45"/>
<path d="M246.50,1428.75 L246.50,1432.50" stroke="#a3923a" stroke-width="0.45"/>
<path d="M205.88,1432.50 L205.88,1436.25" stroke="#a3923a" stroke-width="0.45"/>
<path d="M212.12,1432.50 L212.12,1436.25" stroke="#a3923a" stroke-width="0.45"/>
<path d="M218.38,1432.50 L218.38,1436.25" stroke="#a3923a" stroke-width="0.45"/>
<path d="M224.62,1432.50 L224.62,1436.25" stroke="#a3923a" stroke-width="0.45"/>
<path d="M230.88,1432.50 L230.88,1436.25" stroke="#a3923a" stroke-width="0.45"/>
<path d="M237.12,1432.50 L237.12,1436.25" stroke="#a3923a" stroke-width="0.45"/>
<path d="M243.38,1432.50 L243.38,1436.25" stroke="#a3923a" stroke-width="0.45"/>
<path d="M249.62,1432.50 L249.62,1436.25" stroke="#a3923a" stroke-width="0.45"/>
<path d="M209.00,1436.25 L209.00,1440.00" stroke="#a3923a" stroke-width="0.45"/>
<path d="M215.25,1436.25 L215.25,1440.00" stroke="#a3923a" stroke-width="0.45"/>
<path d="M221.50,1436.25 L221.50,1440.00" stroke="#a3923a" stroke-width="0.45"/>
<path d="M227.75,1436.25 L227.75,1440.00" stroke="#a3923a" stroke-width="0.45"/>
<path d="M234.00,1436.25 L234.00,1440.00" stroke="#a3923a" stroke-width="0.45"/>
<path d="M240.25,1436.25 L240.25,1440.00" stroke="#a3923a" stroke-width="0.45"/>
<path d="M246.50,1436.25 L246.50,1440.00" stroke="#a3923a" stroke-width="0.45"/>
<path d="M205.88,1440.00 L205.88,1443.75" stroke="#a3923a" stroke-width="0.45"/>
<path d="M212.12,1440.00 L212.12,1443.75" stroke="#a3923a" stroke-width="0.45"/>
<path d="M218.38,1440.00 L218.38,1443.75" stroke="#a3923a" stroke-width="0.45"/>
<path d="M224.62,1440.00 L224.62,1443.75" stroke="#a3923a" stroke-width="0.45"/>
<path d="M230.88,1440.00 L230.88,1443.75" stroke="#a3923a" stroke-width="0.45"/>
<path d="M237.12,1440.00 L237.12,1443.75" stroke="#a3923a" stroke-width="0.45"/>
<path d="M243.38,1440.00 L243.38,1443.75" stroke="#a3923a" stroke-width="0.45"/>
<path d="M249.62,1440.00 L249.62,1443.75" stroke="#a3923a" stroke-width="0.45"/>
<path d="M209.00,1443.75 L209.00,1447.50" stroke="#a3923a" stroke-width="0.45"/>
<path d="M215.25,1443.75 L215.25,1447.50" stroke="#a3923a" stroke-width="0.45"/>
<path d="M221.50,1443.75 L221.50,1447.50" stroke="#a3923a" stroke-width="0.45"/>
<path d="M227.75,1443.75 L227.75,1447.50" stroke="#a3923a" stroke-width="0.45"/>
<path d="M234.00,1443.75 L234.00,1447.50" stroke="#a3923a" stroke-width="0.45"/>
<path d="M240.25,1443.75 L240.25,1447.50" stroke="#a3923a" stroke-width="0.45"/>
<path d="M246.50,1443.75 L246.50,1447.50" stroke="#a3923a" stroke-width="0.45"/>
<path d="M205.88,1447.50 L205.88,1451.25" stroke="#a3923a" stroke-width="0.45"/>
<path d="M212.12,1447.50 L212.12,1451.25" stroke="#a3923a" stroke-width="0.45"/>
<path d="M218.38,1447.50 L218.38,1451.25" stroke="#a3923a" stroke-width="0.45"/>
<path d="M224.62,1447.50 L224.62,1451.25" stroke="#a3923a" stroke-width="0.45"/>
<path d="M230.88,1447.50 L230.88,1451.25" stroke="#a3923a" stroke-width="0.45"/>
<path d="M237.12,1447.50 L237.12,1451.25" stroke="#a3923a" stroke-width="0.45"/>
<path d="M243.38,1447.50 L243.38,1451.25" stroke="#a3923a" stroke-width="0.45"/>
<path d="M249.62,1447.50 L249.62,1451.25" stroke="#a3923a" stroke-width="0.45"/>
<rect x="213.12" y="1391.88" width="5" height="5" fill="#C9122B"/>
<rect x="236.88" y="1391.88" width="5" height="5" fill="#C9122B"/>
<rect x="213.12" y="1411.88" width="5" height="5" fill="#C9122B"/>
<rect x="236.88" y="1411.88" width="5" height="5" fill="#C9122B"/>
<path d="M221.25,1451.25 L221.25,1441.25 A6.88,7.91 0 0 1 235.00,1441.25 L235.00,1451.25" fill="#C9122B" stroke="#fff" stroke-width="1.5"/>
<path d="M225.72,1402.10 L225.72,1394.20 L224.32,1392.20 L230.93,1392.20 L229.53,1394.20 L229.53,1402.10 L236.82,1402.10 L238.82,1400.70 L238.82,1407.30 L236.82,1405.90 L229.53,1405.90 L229.53,1413.80 L230.93,1415.80 L224.32,1415.80 L225.72,1413.80 L225.72,1405.90 L218.43,1405.90 L216.43,1407.30 L216.43,1400.70 L218.43,1402.10 Z" fill="#2E9A4D"/>
</svg>
</body></html>
